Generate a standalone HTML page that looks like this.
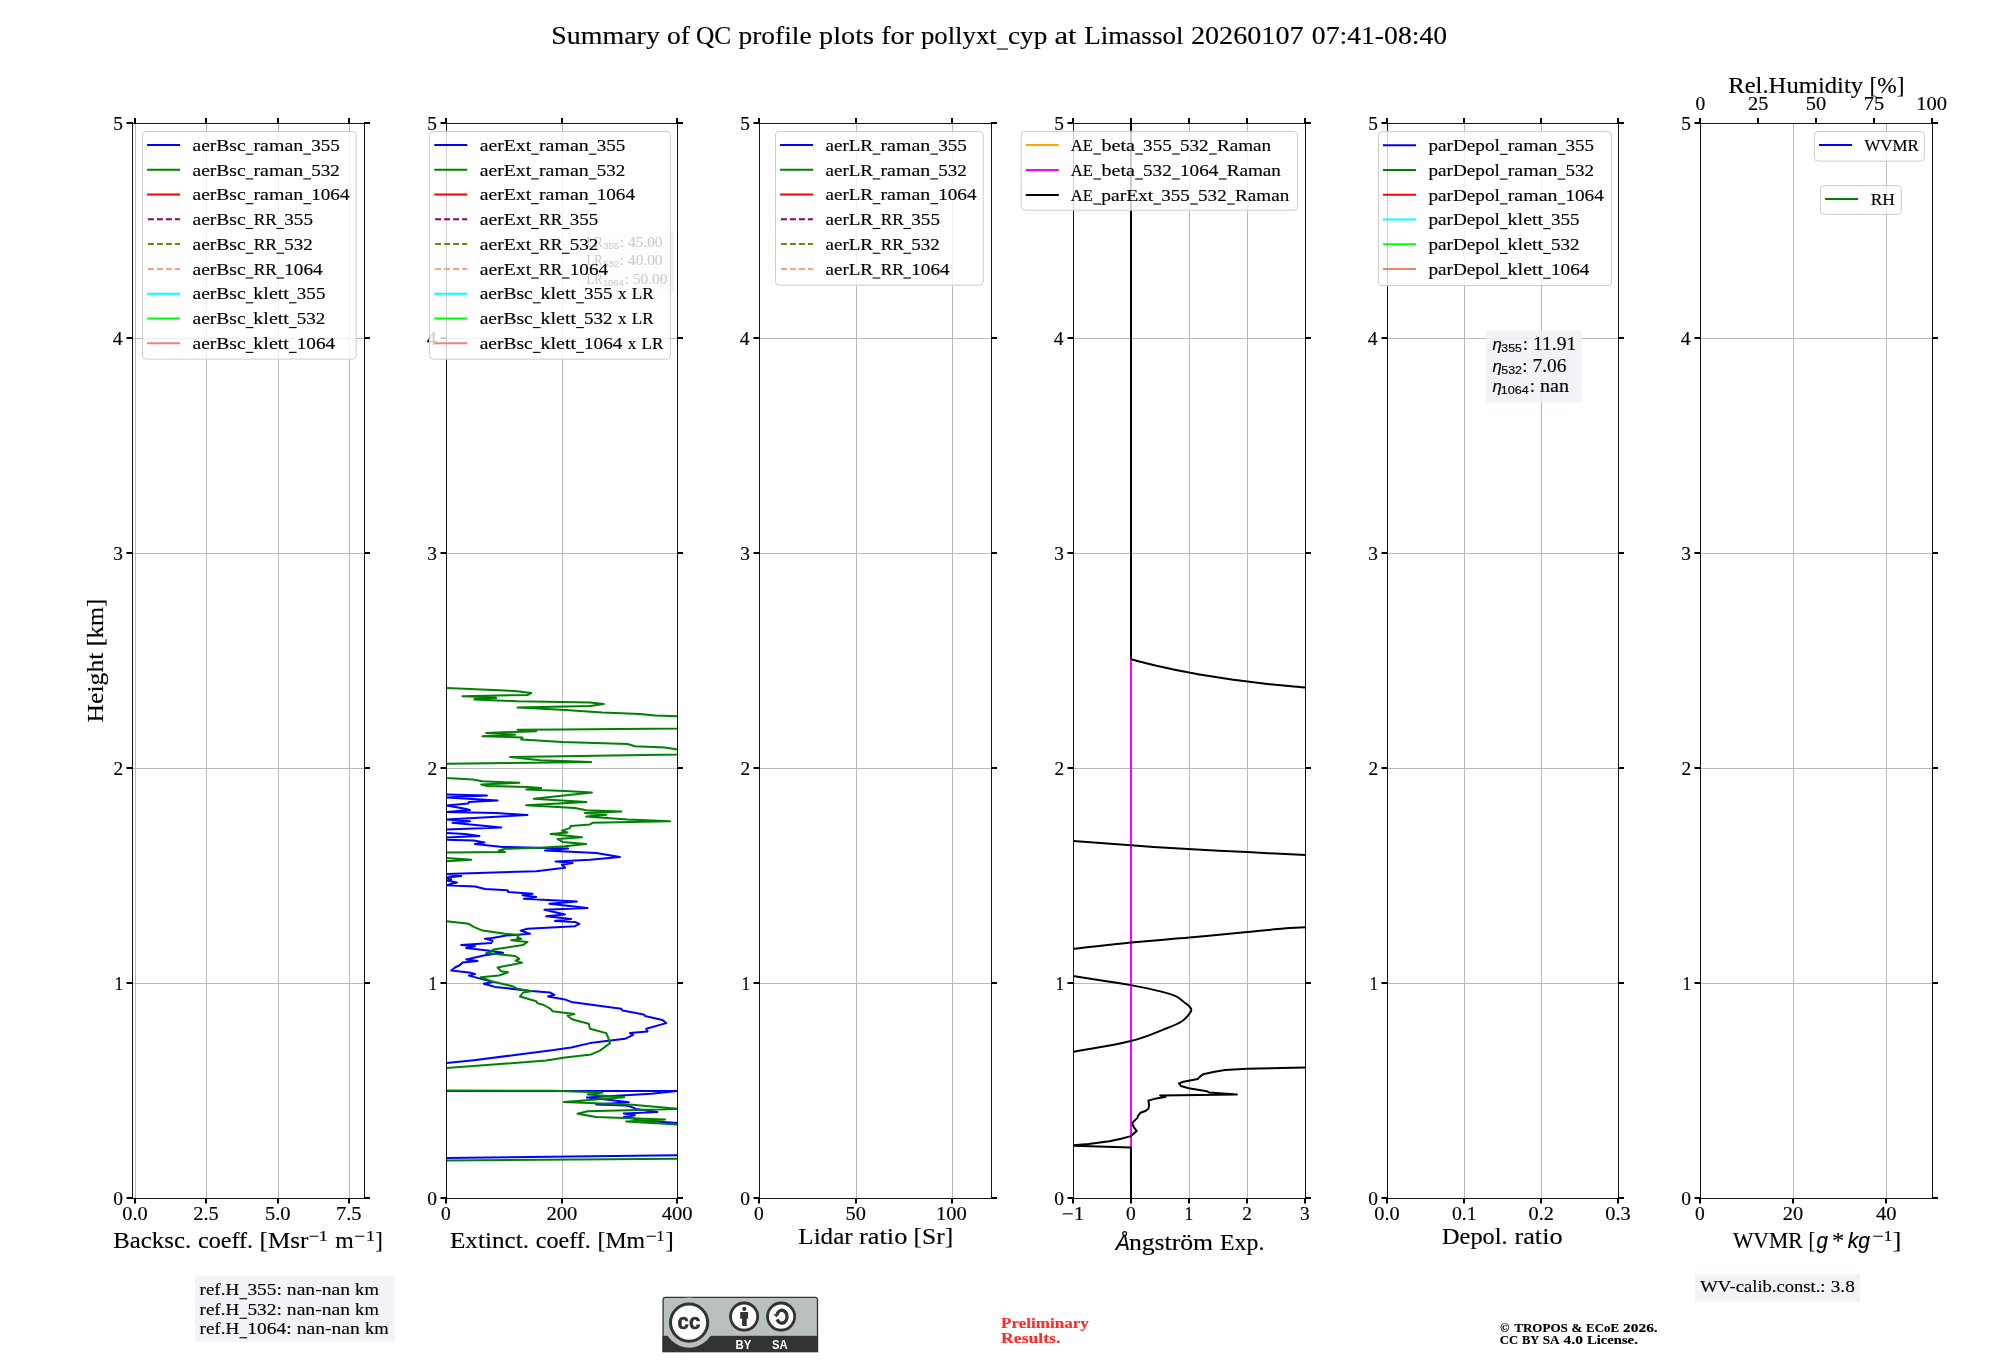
<!DOCTYPE html>
<html><head><meta charset="utf-8"><title>QC profile plots</title><style>html,body{margin:0;padding:0;background:#fff;width:2000px;height:1360px;overflow:hidden}</style></head><body>
<svg width="2000" height="1360" viewBox="0 0 2000 1360" style="display:block;will-change:transform">
<rect width="2000" height="1360" fill="#fff"/>
<defs>
<clipPath id="c0"><rect x="132.5" y="123.5" width="232.0" height="1075.0"/></clipPath>
<clipPath id="c1"><rect x="446.5" y="123.5" width="231.0" height="1075.0"/></clipPath>
<clipPath id="c2"><rect x="759.5" y="123.5" width="232.0" height="1075.0"/></clipPath>
<clipPath id="c3"><rect x="1073.5" y="123.5" width="232.0" height="1075.0"/></clipPath>
<clipPath id="c4"><rect x="1387.5" y="123.5" width="231.0" height="1075.0"/></clipPath>
<clipPath id="c5"><rect x="1700.5" y="123.5" width="232.0" height="1075.0"/></clipPath>
</defs>
<text x="551.32" y="44.20" font-size="24.83" textLength="108.58" lengthAdjust="spacingAndGlyphs" font-family="Liberation Serif" font-weight="normal" font-style="normal" fill="#000" stroke="#000" stroke-width="0.15" >Summary</text>
<text x="667.01" y="44.20" font-size="24.83" textLength="22.97" lengthAdjust="spacingAndGlyphs" font-family="Liberation Serif" font-weight="normal" font-style="normal" fill="#000" stroke="#000" stroke-width="0.15" >of</text>
<text x="695.92" y="44.20" font-size="24.83" textLength="35.18" lengthAdjust="spacingAndGlyphs" font-family="Liberation Serif" font-weight="normal" font-style="normal" fill="#000" stroke="#000" stroke-width="0.15" >QC</text>
<text x="738.42" y="44.20" font-size="24.83" textLength="73.16" lengthAdjust="spacingAndGlyphs" font-family="Liberation Serif" font-weight="normal" font-style="normal" fill="#000" stroke="#000" stroke-width="0.15" >profile</text>
<text x="819.10" y="44.20" font-size="24.83" textLength="54.97" lengthAdjust="spacingAndGlyphs" font-family="Liberation Serif" font-weight="normal" font-style="normal" fill="#000" stroke="#000" stroke-width="0.15" >plots</text>
<text x="881.15" y="44.20" font-size="24.83" textLength="32.65" lengthAdjust="spacingAndGlyphs" font-family="Liberation Serif" font-weight="normal" font-style="normal" fill="#000" stroke="#000" stroke-width="0.15" >for</text>
<text x="920.92" y="44.20" font-size="24.83" textLength="75.86" lengthAdjust="spacingAndGlyphs" font-family="Liberation Serif" font-weight="normal" font-style="normal" fill="#000" stroke="#000" stroke-width="0.15" >pollyxt</text>
<rect x="996.79" y="48.48" width="11.15" height="1.1" fill="#000"/>
<text x="1008.04" y="44.20" font-size="24.83" textLength="39.22" lengthAdjust="spacingAndGlyphs" font-family="Liberation Serif" font-weight="normal" font-style="normal" fill="#000" stroke="#000" stroke-width="0.15" >cyp</text>
<text x="1054.45" y="44.20" font-size="24.83" textLength="22.18" lengthAdjust="spacingAndGlyphs" font-family="Liberation Serif" font-weight="normal" font-style="normal" fill="#000" stroke="#000" stroke-width="0.15" >at</text>
<text x="1084.19" y="44.20" font-size="24.83" textLength="99.33" lengthAdjust="spacingAndGlyphs" font-family="Liberation Serif" font-weight="normal" font-style="normal" fill="#000" stroke="#000" stroke-width="0.15" >Limassol</text>
<text x="1190.98" y="44.20" font-size="24.83" textLength="112.60" lengthAdjust="spacingAndGlyphs" font-family="Liberation Serif" font-weight="normal" font-style="normal" fill="#000" stroke="#000" stroke-width="0.15" >20260107</text>
<text x="1311.80" y="44.20" font-size="24.83" textLength="135.30" lengthAdjust="spacingAndGlyphs" font-family="Liberation Serif" font-weight="normal" font-style="normal" fill="#000" stroke="#000" stroke-width="0.15" >07:41-08:40</text>
<path d="M135.5 123.5V1198.5M206.5 123.5V1198.5M278.5 123.5V1198.5M349.5 123.5V1198.5M132.5 983.5H364.5M132.5 768.5H364.5M132.5 553.5H364.5M132.5 338.5H364.5" stroke="#bababa" stroke-width="1" fill="none"/>
<path d="M562.5 123.5V1198.5M446.5 983.5H677.5M446.5 768.5H677.5M446.5 553.5H677.5M446.5 338.5H677.5" stroke="#bababa" stroke-width="1" fill="none"/>
<path d="M856.5 123.5V1198.5M952.5 123.5V1198.5M759.5 983.5H991.5M759.5 768.5H991.5M759.5 553.5H991.5M759.5 338.5H991.5" stroke="#bababa" stroke-width="1" fill="none"/>
<path d="M1131.5 123.5V1198.5M1189.5 123.5V1198.5M1247.5 123.5V1198.5M1073.5 983.5H1305.5M1073.5 768.5H1305.5M1073.5 553.5H1305.5M1073.5 338.5H1305.5" stroke="#bababa" stroke-width="1" fill="none"/>
<path d="M1464.5 123.5V1198.5M1541.5 123.5V1198.5M1387.5 983.5H1618.5M1387.5 768.5H1618.5M1387.5 553.5H1618.5M1387.5 338.5H1618.5" stroke="#bababa" stroke-width="1" fill="none"/>
<path d="M1793.5 123.5V1198.5M1886.5 123.5V1198.5M1700.5 983.5H1932.5M1700.5 768.5H1932.5M1700.5 553.5H1932.5M1700.5 338.5H1932.5" stroke="#bababa" stroke-width="1" fill="none"/>
<path d="M402.5 793.8 L446.5 794.4 L486.9 795.6 L446.5 797.5 L497.5 800.6 L468.8 801.9 L468.1 803.5 L446.5 805.6 L465.0 808.8 L470.0 810.0 L446.5 811.9 L496.2 813.1 L527.5 815.0 L446.5 819.4 L470.0 821.2 L452.5 822.8 L501.2 827.5 L446.5 829.4 L402.5 831.2 L446.5 833.1 L465.0 834.0 L479.4 836.0 L446.5 837.5 L427.5 838.8 L446.5 839.8 L473.8 840.6 L484.4 842.5 L475.0 844.0 L502.5 846.9 L568.1 848.5 L545.0 850.4 L596.2 853.1 L620.0 856.9 L590.0 859.8 L555.6 861.5 L572.5 863.1 L561.9 864.8 L565.0 867.8 L536.2 871.2 L446.5 874.0 L461.2 876.0 L446.5 877.5 L451.2 879.4 L446.5 880.6 L456.9 882.5 L446.5 885.2 L475.0 886.5 L485.0 889.0 L507.5 890.2 L508.1 891.9 L532.5 893.8 L522.5 895.2 L536.2 896.9 L523.8 898.8 L576.9 901.5 L549.4 903.8 L587.5 908.1 L544.4 909.8 L565.0 914.4 L546.2 916.2 L571.2 919.0 L555.0 921.0 L575.0 921.9 L579.4 923.8 L575.0 926.2 L527.5 928.8 L520.6 930.6 L530.0 933.8 L506.2 935.6 L492.5 938.1 L485.0 938.8 L492.5 940.6 L491.2 943.1 L461.2 945.0 L475.0 946.2 L466.2 948.1 L487.5 950.6 L503.1 952.8 L485.0 955.2 L466.2 959.4 L477.5 961.0 L462.5 962.5 L460.0 965.0 L455.0 967.5 L451.2 970.6 L468.8 972.5 L475.0 974.0 L468.8 975.6 L492.5 981.9 L483.8 983.8 L495.0 986.9 L531.2 991.0 L550.0 992.5 L554.4 994.8 L548.1 996.5 L565.0 999.4 L571.2 1001.9 L621.2 1008.8 L622.5 1010.6 L643.8 1014.4 L645.0 1016.0 L662.5 1020.0 L666.2 1023.1 L646.2 1028.8 L647.5 1031.5 L630.0 1033.1 L633.1 1034.8 L625.0 1038.8 L590.0 1043.1 L571.2 1047.5 L550.0 1050.6 L515.0 1055.0 L473.8 1060.2 L446.5 1063.1 L365.0 1066.2 L365.0 1091.1 L677.2 1091.1 L727.5 1090.8 L677.2 1091.1 L651.2 1093.8 L586.9 1097.5 L606.2 1099.4 L628.8 1102.2 L596.2 1104.4 L625.0 1105.4 L631.2 1106.9 L636.2 1109.0 L657.5 1111.9 L623.8 1113.5 L635.0 1115.2 L623.8 1116.9 L635.0 1118.8 L636.2 1120.0 L677.2 1123.1 L727.5 1124.4" stroke="#0000ff" stroke-width="2.0" fill="none" stroke-linejoin="round" clip-path="url(#c1)" />
<path d="M365.0 1159.0 L677.2 1155.2 L740.0 1154.4" stroke="#0000ff" stroke-width="2.0" fill="none" stroke-linejoin="round" clip-path="url(#c1)" />
<path d="M446.5 688.1 L487.5 689.8 L515.0 691.0 L531.2 693.1 L527.5 695.0 L462.5 696.2 L495.0 697.5 L475.0 698.1 L496.2 698.1 L474.4 699.4 L517.5 701.2 L562.5 701.9 L590.0 702.5 L603.8 704.1 L590.0 706.0 L517.5 707.5 L542.5 708.8 L565.0 710.0 L602.5 712.5 L640.0 714.0 L655.0 715.6 L677.2 716.2 L727.5 722.5 L677.2 728.5 L562.5 729.4 L517.5 729.8 L536.2 731.2 L486.2 732.9 L515.0 734.8 L482.5 736.2 L522.5 737.5 L521.2 739.4 L562.5 741.9 L627.5 744.0 L635.0 746.2 L665.0 747.5 L677.2 749.4 L727.5 751.9 L677.2 754.4 L562.5 756.2 L510.0 757.1 L540.0 760.2 L591.2 761.9 L446.5 763.8 L402.5 771.2 L446.5 778.1 L472.5 779.4 L482.5 781.2 L519.4 782.8 L481.2 784.6 L487.5 786.0 L527.5 787.1 L541.2 787.9 L526.2 789.4 L565.0 791.0 L591.9 792.5 L533.8 798.8 L586.2 802.1 L526.2 805.2 L575.0 808.1 L586.2 810.2 L621.2 811.6 L585.0 813.1 L606.2 814.8 L586.2 816.6 L627.5 819.4 L670.0 821.2 L592.5 822.8 L590.0 824.4 L570.6 826.0 L570.0 828.1 L561.9 830.6 L567.5 832.5 L550.6 834.0 L581.9 837.2 L557.5 839.0 L562.5 841.9 L586.2 844.0 L565.0 846.2 L540.0 847.8 L505.0 848.8 L498.8 850.6 L505.0 851.9 L446.5 852.5 L402.5 855.0 L446.5 858.1 L471.2 859.8 L446.5 861.2 L402.5 865.0 L402.5 918.8 L446.5 921.2 L468.8 923.8 L473.8 926.9 L482.5 930.6 L505.0 933.8 L518.8 935.0 L517.5 937.5 L521.2 938.8 L511.2 940.2 L527.5 941.9 L523.1 945.0 L493.8 949.4 L490.0 951.9 L486.2 953.1 L515.0 956.0 L519.4 958.8 L515.6 960.6 L521.9 962.8 L497.5 967.5 L501.2 971.2 L508.1 972.2 L498.8 975.6 L480.6 977.2 L491.2 981.2 L512.5 986.2 L517.5 988.8 L531.2 991.2 L523.1 992.5 L520.0 996.5 L536.2 1001.2 L537.5 1003.1 L543.8 1005.0 L550.6 1008.8 L552.5 1011.2 L574.4 1014.0 L567.5 1015.6 L571.2 1018.8 L574.4 1020.0 L588.8 1023.8 L590.0 1028.8 L606.2 1033.1 L608.1 1037.5 L610.0 1043.1 L600.0 1050.6 L591.2 1054.4 L565.0 1057.5 L546.2 1060.6 L446.5 1068.1 L365.0 1070.0 L365.0 1090.4 L552.5 1090.8 L602.5 1092.5 L587.5 1094.4 L624.4 1097.2 L563.8 1101.9 L632.5 1104.8 L677.2 1108.8 L727.5 1108.9 L677.2 1109.0 L587.5 1111.2 L577.5 1113.8 L596.2 1116.9 L665.0 1119.4 L626.2 1121.5 L677.2 1124.4 L727.5 1125.0" stroke="#008000" stroke-width="2.0" fill="none" stroke-linejoin="round" clip-path="url(#c1)" />
<path d="M365.0 1161.2 L677.2 1158.8 L740.0 1158.1" stroke="#008000" stroke-width="2.0" fill="none" stroke-linejoin="round" clip-path="url(#c1)" />
<path d="M1131.0 100.0 L1131.0 1300.0" stroke="#ff00ff" stroke-width="2.0" fill="none" stroke-linejoin="round" clip-path="url(#c3)" />
<path d="M1131.0 100.0 L1131.0 659.3" stroke="#000000" stroke-width="2.0" fill="none" stroke-linejoin="round" clip-path="url(#c3)" />
<path d="M1131.00 659.30 C1132.03 659.57 1134.83 660.31 1137.20 660.93 C1139.57 661.54 1142.53 662.33 1145.20 663.00 C1147.87 663.67 1150.53 664.32 1153.20 664.96 C1155.87 665.59 1158.53 666.21 1161.20 666.81 C1163.87 667.42 1166.53 668.00 1169.20 668.57 C1171.87 669.14 1174.53 669.70 1177.20 670.24 C1179.87 670.78 1182.53 671.30 1185.20 671.81 C1187.87 672.32 1190.53 672.82 1193.20 673.31 C1195.87 673.79 1198.53 674.26 1201.20 674.72 C1203.87 675.18 1206.53 675.62 1209.20 676.06 C1211.87 676.49 1214.53 676.92 1217.20 677.33 C1219.87 677.74 1222.53 678.14 1225.20 678.53 C1227.87 678.92 1230.53 679.30 1233.20 679.66 C1235.87 680.03 1238.53 680.39 1241.20 680.74 C1243.87 681.09 1246.53 681.43 1249.20 681.76 C1251.87 682.09 1254.53 682.41 1257.20 682.73 C1259.87 683.04 1262.53 683.35 1265.20 683.64 C1267.87 683.94 1270.53 684.23 1273.20 684.51 C1275.87 684.79 1278.53 685.06 1281.20 685.33 C1283.87 685.60 1286.53 685.85 1289.20 686.11 C1291.87 686.36 1294.53 686.60 1297.20 686.84 C1299.87 687.08 1302.53 687.31 1305.20 687.54 C1307.87 687.77 1310.53 687.99 1313.20 688.20 C1315.87 688.41 1318.53 688.62 1321.20 688.82 C1323.87 689.03 1327.87 689.32 1329.20 689.42" stroke="#000000" stroke-width="2.0" fill="none" stroke-linejoin="round" clip-path="url(#c3)" />
<path d="M1033.99 838.21 C1040.56 838.68 1057.25 839.87 1073.39 841.07 C1089.54 842.26 1112.51 844.06 1130.87 845.36 C1149.23 846.66 1164.14 847.74 1183.54 848.87 C1202.93 850.00 1226.93 851.08 1247.26 852.12 C1267.59 853.16 1286.87 854.18 1305.51 855.11 C1324.15 856.04 1350.16 857.28 1359.09 857.71" stroke="#000000" stroke-width="2.0" fill="none" stroke-linejoin="round" clip-path="url(#c3)" />
<path d="M1033.99 952.38 C1040.56 951.77 1057.25 950.39 1073.39 948.74 C1089.54 947.09 1111.54 944.38 1130.87 942.50 C1150.20 940.61 1169.99 939.16 1189.39 937.43 C1208.79 935.69 1231.54 933.57 1247.26 932.09 C1262.97 930.62 1273.96 929.38 1283.67 928.58 C1293.38 927.78 1292.94 928.04 1305.51 927.28 C1318.08 926.52 1350.16 924.57 1359.09 924.03" stroke="#000000" stroke-width="2.0" fill="none" stroke-linejoin="round" clip-path="url(#c3)" />
<path d="M1033.99 969.51 C1040.56 970.59 1061.04 974.01 1073.39 976.01 C1085.75 978.00 1098.53 979.95 1108.11 981.47 C1117.69 982.99 1121.99 983.42 1130.87 985.11 C1139.76 986.80 1153.95 989.77 1161.43 991.61 C1168.91 993.45 1172.27 994.65 1175.73 996.16 C1179.20 997.68 1179.85 998.87 1182.24 1000.72 C1184.62 1002.56 1188.63 1005.37 1190.04 1007.22 C1191.45 1009.06 1192.10 1009.38 1190.69 1011.77 C1189.28 1014.15 1186.03 1018.60 1181.59 1021.52 C1177.14 1024.45 1172.48 1026.07 1164.03 1029.32 C1155.58 1032.57 1145.98 1037.30 1130.87 1041.03 C1115.77 1044.76 1089.54 1049.09 1073.39 1051.69 C1057.25 1054.29 1040.56 1055.81 1033.99 1056.63" stroke="#000000" stroke-width="2.0" fill="none" stroke-linejoin="round" clip-path="url(#c3)" />
<path d="M1359.1 1066.8 L1305.5 1067.5 L1247.3 1068.8 L1225.1 1070.0 L1214.7 1071.7 L1203.0 1074.3 L1199.8 1076.9 L1197.8 1078.9 L1183.5 1081.8 L1179.0 1083.4 L1180.9 1086.0 L1188.7 1088.3 L1206.9 1091.2 L1208.9 1092.5 L1236.9 1094.5 L1160.1 1095.4 L1165.3 1097.1 L1156.2 1098.4 L1148.4 1100.6 L1149.1 1104.9 L1148.4 1108.8 L1145.8 1110.7 L1140.6 1112.7 L1138.0 1115.9 L1137.4 1117.9 L1132.8 1122.4 L1132.2 1123.7 L1134.1 1127.6 L1136.7 1130.9 L1130.9 1136.1 L1121.1 1138.7 L1109.4 1141.3 L1088.6 1143.9 L1073.4 1145.2 L1047.0 1145.6 L1073.4 1145.8 L1130.9 1147.4 L1131.0 1203.0" stroke="#000000" stroke-width="2.0" fill="none" stroke-linejoin="round" clip-path="url(#c3)" />
<rect x="132.5" y="123.5" width="232.0" height="1075.0" fill="none" stroke="#151515" stroke-width="1"/>
<path d="M135 1198.0v5.5M135 124.0v-6M206 1198.0v5.5M206 124.0v-6M278 1198.0v5.5M278 124.0v-6M349 1198.0v5.5M349 124.0v-6M133.0 1198h-6.5M364.0 1198h6M133.0 983h-6.5M364.0 983h6M133.0 768h-6.5M364.0 768h6M133.0 553h-6.5M364.0 553h6M133.0 338h-6.5M364.0 338h6M133.0 123h-6.5M364.0 123h6" stroke="#000" stroke-width="2" fill="none"/>
<text x="122.26" y="1219.90" font-size="18.25" textLength="25.47" lengthAdjust="spacingAndGlyphs" font-family="Liberation Serif" font-weight="normal" font-style="normal" fill="#000" stroke="#000" stroke-width="0.15" >0.0</text>
<text x="193.21" y="1219.90" font-size="18.25" textLength="25.47" lengthAdjust="spacingAndGlyphs" font-family="Liberation Serif" font-weight="normal" font-style="normal" fill="#000" stroke="#000" stroke-width="0.15" >2.5</text>
<text x="265.02" y="1219.90" font-size="18.25" textLength="25.56" lengthAdjust="spacingAndGlyphs" font-family="Liberation Serif" font-weight="normal" font-style="normal" fill="#000" stroke="#000" stroke-width="0.15" >5.0</text>
<text x="335.94" y="1219.90" font-size="18.25" textLength="25.60" lengthAdjust="spacingAndGlyphs" font-family="Liberation Serif" font-weight="normal" font-style="normal" fill="#000" stroke="#000" stroke-width="0.15" >7.5</text>
<text x="113.19" y="1204.60" font-size="18.25" textLength="9.74" lengthAdjust="spacingAndGlyphs" font-family="Liberation Serif" font-weight="normal" font-style="normal" fill="#000" stroke="#000" stroke-width="0.15" >0</text>
<text x="114.57" y="989.62" font-size="18.25" textLength="8.67" lengthAdjust="spacingAndGlyphs" font-family="Liberation Serif" font-weight="normal" font-style="normal" fill="#000" stroke="#000" stroke-width="0.15" >1</text>
<text x="113.62" y="774.64" font-size="18.25" textLength="9.63" lengthAdjust="spacingAndGlyphs" font-family="Liberation Serif" font-weight="normal" font-style="normal" fill="#000" stroke="#000" stroke-width="0.15" >2</text>
<text x="113.28" y="559.66" font-size="18.25" textLength="9.69" lengthAdjust="spacingAndGlyphs" font-family="Liberation Serif" font-weight="normal" font-style="normal" fill="#000" stroke="#000" stroke-width="0.15" >3</text>
<text x="112.71" y="344.68" font-size="18.25" textLength="9.79" lengthAdjust="spacingAndGlyphs" font-family="Liberation Serif" font-weight="normal" font-style="normal" fill="#000" stroke="#000" stroke-width="0.15" >4</text>
<text x="113.30" y="129.70" font-size="18.25" textLength="9.68" lengthAdjust="spacingAndGlyphs" font-family="Liberation Serif" font-weight="normal" font-style="normal" fill="#000" stroke="#000" stroke-width="0.15" >5</text>
<rect x="446.5" y="123.5" width="231.0" height="1075.0" fill="none" stroke="#151515" stroke-width="1"/>
<path d="M446 1198.0v5.5M446 124.0v-6M562 1198.0v5.5M562 124.0v-6M677 1198.0v5.5M677 124.0v-6M447.0 1198h-6.5M677.0 1198h6M447.0 983h-6.5M677.0 983h6M447.0 768h-6.5M677.0 768h6M447.0 553h-6.5M677.0 553h6M447.0 338h-6.5M677.0 338h6M447.0 123h-6.5M677.0 123h6" stroke="#000" stroke-width="2" fill="none"/>
<text x="441.13" y="1219.90" font-size="18.25" textLength="9.74" lengthAdjust="spacingAndGlyphs" font-family="Liberation Serif" font-weight="normal" font-style="normal" fill="#000" stroke="#000" stroke-width="0.15" >0</text>
<text x="546.52" y="1219.90" font-size="18.25" textLength="30.80" lengthAdjust="spacingAndGlyphs" font-family="Liberation Serif" font-weight="normal" font-style="normal" fill="#000" stroke="#000" stroke-width="0.15" >200</text>
<text x="661.73" y="1219.90" font-size="18.25" textLength="30.91" lengthAdjust="spacingAndGlyphs" font-family="Liberation Serif" font-weight="normal" font-style="normal" fill="#000" stroke="#000" stroke-width="0.15" >400</text>
<text x="427.19" y="1204.60" font-size="18.25" textLength="9.74" lengthAdjust="spacingAndGlyphs" font-family="Liberation Serif" font-weight="normal" font-style="normal" fill="#000" stroke="#000" stroke-width="0.15" >0</text>
<text x="428.57" y="989.62" font-size="18.25" textLength="8.67" lengthAdjust="spacingAndGlyphs" font-family="Liberation Serif" font-weight="normal" font-style="normal" fill="#000" stroke="#000" stroke-width="0.15" >1</text>
<text x="427.62" y="774.64" font-size="18.25" textLength="9.63" lengthAdjust="spacingAndGlyphs" font-family="Liberation Serif" font-weight="normal" font-style="normal" fill="#000" stroke="#000" stroke-width="0.15" >2</text>
<text x="427.28" y="559.66" font-size="18.25" textLength="9.69" lengthAdjust="spacingAndGlyphs" font-family="Liberation Serif" font-weight="normal" font-style="normal" fill="#000" stroke="#000" stroke-width="0.15" >3</text>
<text x="426.71" y="344.68" font-size="18.25" textLength="9.79" lengthAdjust="spacingAndGlyphs" font-family="Liberation Serif" font-weight="normal" font-style="normal" fill="#000" stroke="#000" stroke-width="0.15" >4</text>
<text x="427.30" y="129.70" font-size="18.25" textLength="9.68" lengthAdjust="spacingAndGlyphs" font-family="Liberation Serif" font-weight="normal" font-style="normal" fill="#000" stroke="#000" stroke-width="0.15" >5</text>
<rect x="759.5" y="123.5" width="232.0" height="1075.0" fill="none" stroke="#151515" stroke-width="1"/>
<path d="M759 1198.0v5.5M759 124.0v-6M856 1198.0v5.5M856 124.0v-6M952 1198.0v5.5M952 124.0v-6M760.0 1198h-6.5M991.0 1198h6M760.0 983h-6.5M991.0 983h6M760.0 768h-6.5M991.0 768h6M760.0 553h-6.5M991.0 553h6M760.0 338h-6.5M991.0 338h6M760.0 123h-6.5M991.0 123h6" stroke="#000" stroke-width="2" fill="none"/>
<text x="754.13" y="1219.90" font-size="18.25" textLength="9.74" lengthAdjust="spacingAndGlyphs" font-family="Liberation Serif" font-weight="normal" font-style="normal" fill="#000" stroke="#000" stroke-width="0.15" >0</text>
<text x="845.63" y="1219.90" font-size="18.25" textLength="20.34" lengthAdjust="spacingAndGlyphs" font-family="Liberation Serif" font-weight="normal" font-style="normal" fill="#000" stroke="#000" stroke-width="0.15" >50</text>
<text x="936.10" y="1219.90" font-size="18.25" textLength="30.77" lengthAdjust="spacingAndGlyphs" font-family="Liberation Serif" font-weight="normal" font-style="normal" fill="#000" stroke="#000" stroke-width="0.15" >100</text>
<text x="740.19" y="1204.60" font-size="18.25" textLength="9.74" lengthAdjust="spacingAndGlyphs" font-family="Liberation Serif" font-weight="normal" font-style="normal" fill="#000" stroke="#000" stroke-width="0.15" >0</text>
<text x="741.57" y="989.62" font-size="18.25" textLength="8.67" lengthAdjust="spacingAndGlyphs" font-family="Liberation Serif" font-weight="normal" font-style="normal" fill="#000" stroke="#000" stroke-width="0.15" >1</text>
<text x="740.62" y="774.64" font-size="18.25" textLength="9.63" lengthAdjust="spacingAndGlyphs" font-family="Liberation Serif" font-weight="normal" font-style="normal" fill="#000" stroke="#000" stroke-width="0.15" >2</text>
<text x="740.28" y="559.66" font-size="18.25" textLength="9.69" lengthAdjust="spacingAndGlyphs" font-family="Liberation Serif" font-weight="normal" font-style="normal" fill="#000" stroke="#000" stroke-width="0.15" >3</text>
<text x="739.71" y="344.68" font-size="18.25" textLength="9.79" lengthAdjust="spacingAndGlyphs" font-family="Liberation Serif" font-weight="normal" font-style="normal" fill="#000" stroke="#000" stroke-width="0.15" >4</text>
<text x="740.30" y="129.70" font-size="18.25" textLength="9.68" lengthAdjust="spacingAndGlyphs" font-family="Liberation Serif" font-weight="normal" font-style="normal" fill="#000" stroke="#000" stroke-width="0.15" >5</text>
<rect x="1073.5" y="123.5" width="232.0" height="1075.0" fill="none" stroke="#151515" stroke-width="1"/>
<path d="M1073 1198.0v5.5M1073 124.0v-6M1131 1198.0v5.5M1131 124.0v-6M1189 1198.0v5.5M1189 124.0v-6M1247 1198.0v5.5M1247 124.0v-6M1305 1198.0v5.5M1305 124.0v-6M1074.0 1198h-6.5M1305.0 1198h6M1074.0 983h-6.5M1305.0 983h6M1074.0 768h-6.5M1305.0 768h6M1074.0 553h-6.5M1305.0 553h6M1074.0 338h-6.5M1305.0 338h6M1074.0 123h-6.5M1305.0 123h6" stroke="#000" stroke-width="2" fill="none"/>
<text x="1061.88" y="1219.90" font-size="18.25" textLength="22.43" lengthAdjust="spacingAndGlyphs" font-family="Liberation Serif" font-weight="normal" font-style="normal" fill="#000" stroke="#000" stroke-width="0.15" >−1</text>
<text x="1126.13" y="1219.90" font-size="18.25" textLength="9.74" lengthAdjust="spacingAndGlyphs" font-family="Liberation Serif" font-weight="normal" font-style="normal" fill="#000" stroke="#000" stroke-width="0.15" >0</text>
<text x="1184.43" y="1219.90" font-size="18.25" textLength="8.67" lengthAdjust="spacingAndGlyphs" font-family="Liberation Serif" font-weight="normal" font-style="normal" fill="#000" stroke="#000" stroke-width="0.15" >1</text>
<text x="1242.28" y="1219.90" font-size="18.25" textLength="9.63" lengthAdjust="spacingAndGlyphs" font-family="Liberation Serif" font-weight="normal" font-style="normal" fill="#000" stroke="#000" stroke-width="0.15" >2</text>
<text x="1300.08" y="1219.90" font-size="18.25" textLength="9.69" lengthAdjust="spacingAndGlyphs" font-family="Liberation Serif" font-weight="normal" font-style="normal" fill="#000" stroke="#000" stroke-width="0.15" >3</text>
<text x="1054.19" y="1204.60" font-size="18.25" textLength="9.74" lengthAdjust="spacingAndGlyphs" font-family="Liberation Serif" font-weight="normal" font-style="normal" fill="#000" stroke="#000" stroke-width="0.15" >0</text>
<text x="1055.57" y="989.62" font-size="18.25" textLength="8.67" lengthAdjust="spacingAndGlyphs" font-family="Liberation Serif" font-weight="normal" font-style="normal" fill="#000" stroke="#000" stroke-width="0.15" >1</text>
<text x="1054.62" y="774.64" font-size="18.25" textLength="9.63" lengthAdjust="spacingAndGlyphs" font-family="Liberation Serif" font-weight="normal" font-style="normal" fill="#000" stroke="#000" stroke-width="0.15" >2</text>
<text x="1054.28" y="559.66" font-size="18.25" textLength="9.69" lengthAdjust="spacingAndGlyphs" font-family="Liberation Serif" font-weight="normal" font-style="normal" fill="#000" stroke="#000" stroke-width="0.15" >3</text>
<text x="1053.71" y="344.68" font-size="18.25" textLength="9.79" lengthAdjust="spacingAndGlyphs" font-family="Liberation Serif" font-weight="normal" font-style="normal" fill="#000" stroke="#000" stroke-width="0.15" >4</text>
<text x="1054.30" y="129.70" font-size="18.25" textLength="9.68" lengthAdjust="spacingAndGlyphs" font-family="Liberation Serif" font-weight="normal" font-style="normal" fill="#000" stroke="#000" stroke-width="0.15" >5</text>
<rect x="1387.5" y="123.5" width="231.0" height="1075.0" fill="none" stroke="#151515" stroke-width="1"/>
<path d="M1387 1198.0v5.5M1387 124.0v-6M1464 1198.0v5.5M1464 124.0v-6M1541 1198.0v5.5M1541 124.0v-6M1618 1198.0v5.5M1618 124.0v-6M1388.0 1198h-6.5M1618.0 1198h6M1388.0 983h-6.5M1618.0 983h6M1388.0 768h-6.5M1618.0 768h6M1388.0 553h-6.5M1618.0 553h6M1388.0 338h-6.5M1618.0 338h6M1388.0 123h-6.5M1618.0 123h6" stroke="#000" stroke-width="2" fill="none"/>
<text x="1374.26" y="1219.90" font-size="18.25" textLength="25.47" lengthAdjust="spacingAndGlyphs" font-family="Liberation Serif" font-weight="normal" font-style="normal" fill="#000" stroke="#000" stroke-width="0.15" >0.0</text>
<text x="1451.90" y="1219.90" font-size="18.25" textLength="24.64" lengthAdjust="spacingAndGlyphs" font-family="Liberation Serif" font-weight="normal" font-style="normal" fill="#000" stroke="#000" stroke-width="0.15" >0.1</text>
<text x="1528.54" y="1219.90" font-size="18.25" textLength="25.28" lengthAdjust="spacingAndGlyphs" font-family="Liberation Serif" font-weight="normal" font-style="normal" fill="#000" stroke="#000" stroke-width="0.15" >0.2</text>
<text x="1605.33" y="1219.90" font-size="18.25" textLength="25.40" lengthAdjust="spacingAndGlyphs" font-family="Liberation Serif" font-weight="normal" font-style="normal" fill="#000" stroke="#000" stroke-width="0.15" >0.3</text>
<text x="1368.19" y="1204.60" font-size="18.25" textLength="9.74" lengthAdjust="spacingAndGlyphs" font-family="Liberation Serif" font-weight="normal" font-style="normal" fill="#000" stroke="#000" stroke-width="0.15" >0</text>
<text x="1369.57" y="989.62" font-size="18.25" textLength="8.67" lengthAdjust="spacingAndGlyphs" font-family="Liberation Serif" font-weight="normal" font-style="normal" fill="#000" stroke="#000" stroke-width="0.15" >1</text>
<text x="1368.62" y="774.64" font-size="18.25" textLength="9.63" lengthAdjust="spacingAndGlyphs" font-family="Liberation Serif" font-weight="normal" font-style="normal" fill="#000" stroke="#000" stroke-width="0.15" >2</text>
<text x="1368.28" y="559.66" font-size="18.25" textLength="9.69" lengthAdjust="spacingAndGlyphs" font-family="Liberation Serif" font-weight="normal" font-style="normal" fill="#000" stroke="#000" stroke-width="0.15" >3</text>
<text x="1367.71" y="344.68" font-size="18.25" textLength="9.79" lengthAdjust="spacingAndGlyphs" font-family="Liberation Serif" font-weight="normal" font-style="normal" fill="#000" stroke="#000" stroke-width="0.15" >4</text>
<text x="1368.30" y="129.70" font-size="18.25" textLength="9.68" lengthAdjust="spacingAndGlyphs" font-family="Liberation Serif" font-weight="normal" font-style="normal" fill="#000" stroke="#000" stroke-width="0.15" >5</text>
<rect x="1700.5" y="123.5" width="232.0" height="1075.0" fill="none" stroke="#151515" stroke-width="1"/>
<path d="M1700 1198.0v5.5M1793 1198.0v5.5M1886 1198.0v5.5M1701.0 1198h-6.5M1932.0 1198h6M1701.0 983h-6.5M1932.0 983h6M1701.0 768h-6.5M1932.0 768h6M1701.0 553h-6.5M1932.0 553h6M1701.0 338h-6.5M1932.0 338h6M1701.0 123h-6.5M1932.0 123h6M1700 124.0v-6M1758 124.0v-6M1816 124.0v-6M1874 124.0v-6M1932 124.0v-6" stroke="#000" stroke-width="2" fill="none"/>
<text x="1695.13" y="1219.90" font-size="18.25" textLength="9.74" lengthAdjust="spacingAndGlyphs" font-family="Liberation Serif" font-weight="normal" font-style="normal" fill="#000" stroke="#000" stroke-width="0.15" >0</text>
<text x="1782.74" y="1219.90" font-size="18.25" textLength="20.38" lengthAdjust="spacingAndGlyphs" font-family="Liberation Serif" font-weight="normal" font-style="normal" fill="#000" stroke="#000" stroke-width="0.15" >20</text>
<text x="1875.93" y="1219.90" font-size="18.25" textLength="20.49" lengthAdjust="spacingAndGlyphs" font-family="Liberation Serif" font-weight="normal" font-style="normal" fill="#000" stroke="#000" stroke-width="0.15" >40</text>
<text x="1681.19" y="1204.60" font-size="18.25" textLength="9.74" lengthAdjust="spacingAndGlyphs" font-family="Liberation Serif" font-weight="normal" font-style="normal" fill="#000" stroke="#000" stroke-width="0.15" >0</text>
<text x="1682.57" y="989.62" font-size="18.25" textLength="8.67" lengthAdjust="spacingAndGlyphs" font-family="Liberation Serif" font-weight="normal" font-style="normal" fill="#000" stroke="#000" stroke-width="0.15" >1</text>
<text x="1681.62" y="774.64" font-size="18.25" textLength="9.63" lengthAdjust="spacingAndGlyphs" font-family="Liberation Serif" font-weight="normal" font-style="normal" fill="#000" stroke="#000" stroke-width="0.15" >2</text>
<text x="1681.28" y="559.66" font-size="18.25" textLength="9.69" lengthAdjust="spacingAndGlyphs" font-family="Liberation Serif" font-weight="normal" font-style="normal" fill="#000" stroke="#000" stroke-width="0.15" >3</text>
<text x="1680.71" y="344.68" font-size="18.25" textLength="9.79" lengthAdjust="spacingAndGlyphs" font-family="Liberation Serif" font-weight="normal" font-style="normal" fill="#000" stroke="#000" stroke-width="0.15" >4</text>
<text x="1681.30" y="129.70" font-size="18.25" textLength="9.68" lengthAdjust="spacingAndGlyphs" font-family="Liberation Serif" font-weight="normal" font-style="normal" fill="#000" stroke="#000" stroke-width="0.15" >5</text>
<text x="1695.43" y="110.00" font-size="18.25" textLength="9.74" lengthAdjust="spacingAndGlyphs" font-family="Liberation Serif" font-weight="normal" font-style="normal" fill="#000" stroke="#000" stroke-width="0.15" >0</text>
<text x="1748.10" y="110.00" font-size="18.25" textLength="20.25" lengthAdjust="spacingAndGlyphs" font-family="Liberation Serif" font-weight="normal" font-style="normal" fill="#000" stroke="#000" stroke-width="0.15" >25</text>
<text x="1805.88" y="110.00" font-size="18.25" textLength="20.34" lengthAdjust="spacingAndGlyphs" font-family="Liberation Serif" font-weight="normal" font-style="normal" fill="#000" stroke="#000" stroke-width="0.15" >50</text>
<text x="1863.78" y="110.00" font-size="18.25" textLength="20.39" lengthAdjust="spacingAndGlyphs" font-family="Liberation Serif" font-weight="normal" font-style="normal" fill="#000" stroke="#000" stroke-width="0.15" >75</text>
<text x="1916.30" y="110.00" font-size="18.25" textLength="30.77" lengthAdjust="spacingAndGlyphs" font-family="Liberation Serif" font-weight="normal" font-style="normal" fill="#000" stroke="#000" stroke-width="0.15" >100</text>
<text x="1728.23" y="93.30" font-size="22.48" textLength="134.88" lengthAdjust="spacingAndGlyphs" font-family="Liberation Serif" font-weight="normal" font-style="normal" fill="#000" stroke="#000" stroke-width="0.15" >Rel.Humidity</text>
<text x="1869.45" y="93.30" font-size="22.48" textLength="34.99" lengthAdjust="spacingAndGlyphs" font-family="Liberation Serif" font-weight="normal" font-style="normal" fill="#000" stroke="#000" stroke-width="0.15" >[%]</text>
<text x="113.26" y="1247.90" font-size="22.48" textLength="77.91" lengthAdjust="spacingAndGlyphs" font-family="Liberation Serif" font-weight="normal" font-style="normal" fill="#000" stroke="#000" stroke-width="0.15" >Backsc.</text>
<text x="197.96" y="1247.90" font-size="22.48" textLength="55.11" lengthAdjust="spacingAndGlyphs" font-family="Liberation Serif" font-weight="normal" font-style="normal" fill="#000" stroke="#000" stroke-width="0.15" >coeff.</text>
<text x="259.58" y="1247.90" font-size="22.48" textLength="48.92" lengthAdjust="spacingAndGlyphs" font-family="Liberation Serif" font-weight="normal" font-style="normal" fill="#000" stroke="#000" stroke-width="0.15" >[Msr</text>
<text x="308.48" y="1241.00" font-size="14.80" textLength="10.43" lengthAdjust="spacingAndGlyphs" font-family="Liberation Serif" font-weight="normal" font-style="normal" fill="#000" stroke="#000" stroke-width="0.15" >−</text>
<text x="318.81" y="1241.00" font-size="14.80" textLength="9.08" lengthAdjust="spacingAndGlyphs" font-family="Liberation Serif" font-weight="normal" font-style="normal" fill="#000" stroke="#000" stroke-width="0.15" >1</text>
<text x="335.33" y="1247.90" font-size="22.48" textLength="18.44" lengthAdjust="spacingAndGlyphs" font-family="Liberation Serif" font-weight="normal" font-style="normal" fill="#000" stroke="#000" stroke-width="0.15" >m</text>
<text x="354.12" y="1241.00" font-size="14.80" textLength="11.04" lengthAdjust="spacingAndGlyphs" font-family="Liberation Serif" font-weight="normal" font-style="normal" fill="#000" stroke="#000" stroke-width="0.15" >−</text>
<text x="365.94" y="1241.00" font-size="14.80" textLength="8.94" lengthAdjust="spacingAndGlyphs" font-family="Liberation Serif" font-weight="normal" font-style="normal" fill="#000" stroke="#000" stroke-width="0.15" >1</text>
<text x="375.21" y="1247.90" font-size="22.48" textLength="7.55" lengthAdjust="spacingAndGlyphs" font-family="Liberation Serif" font-weight="normal" font-style="normal" fill="#000" stroke="#000" stroke-width="0.15" >]</text>
<text x="449.99" y="1247.80" font-size="22.48" textLength="79.02" lengthAdjust="spacingAndGlyphs" font-family="Liberation Serif" font-weight="normal" font-style="normal" fill="#000" stroke="#000" stroke-width="0.15" >Extinct.</text>
<text x="535.74" y="1247.80" font-size="22.48" textLength="55.11" lengthAdjust="spacingAndGlyphs" font-family="Liberation Serif" font-weight="normal" font-style="normal" fill="#000" stroke="#000" stroke-width="0.15" >coeff.</text>
<text x="597.47" y="1247.80" font-size="22.48" textLength="47.59" lengthAdjust="spacingAndGlyphs" font-family="Liberation Serif" font-weight="normal" font-style="normal" fill="#000" stroke="#000" stroke-width="0.15" >[Mm</text>
<text x="645.53" y="1241.00" font-size="14.80" textLength="10.92" lengthAdjust="spacingAndGlyphs" font-family="Liberation Serif" font-weight="normal" font-style="normal" fill="#000" stroke="#000" stroke-width="0.15" >−</text>
<text x="656.63" y="1241.00" font-size="14.80" textLength="7.80" lengthAdjust="spacingAndGlyphs" font-family="Liberation Serif" font-weight="normal" font-style="normal" fill="#000" stroke="#000" stroke-width="0.15" >1</text>
<text x="665.63" y="1247.80" font-size="22.48" textLength="8.29" lengthAdjust="spacingAndGlyphs" font-family="Liberation Serif" font-weight="normal" font-style="normal" fill="#000" stroke="#000" stroke-width="0.15" >]</text>
<text x="798.34" y="1244.00" font-size="22.48" textLength="54.33" lengthAdjust="spacingAndGlyphs" font-family="Liberation Serif" font-weight="normal" font-style="normal" fill="#000" stroke="#000" stroke-width="0.15" >Lidar</text>
<text x="859.09" y="1244.00" font-size="22.48" textLength="48.23" lengthAdjust="spacingAndGlyphs" font-family="Liberation Serif" font-weight="normal" font-style="normal" fill="#000" stroke="#000" stroke-width="0.15" >ratio</text>
<text x="913.58" y="1244.00" font-size="22.48" textLength="39.56" lengthAdjust="spacingAndGlyphs" font-family="Liberation Serif" font-weight="normal" font-style="normal" fill="#000" stroke="#000" stroke-width="0.15" >[Sr]</text>
<text x="1115.71" y="1249.50" font-size="21.41" textLength="14.15" lengthAdjust="spacingAndGlyphs" font-family="Liberation Sans" font-weight="normal" font-style="italic" fill="#000" stroke="#000" stroke-width="0.15" >Å</text>
<text x="1128.92" y="1249.50" font-size="22.48" textLength="84.21" lengthAdjust="spacingAndGlyphs" font-family="Liberation Serif" font-weight="normal" font-style="normal" fill="#000" stroke="#000" stroke-width="0.15" >ngström</text>
<text x="1220.03" y="1249.50" font-size="22.48" textLength="44.35" lengthAdjust="spacingAndGlyphs" font-family="Liberation Serif" font-weight="normal" font-style="normal" fill="#000" stroke="#000" stroke-width="0.15" >Exp.</text>
<text x="1442.08" y="1243.90" font-size="22.48" textLength="65.40" lengthAdjust="spacingAndGlyphs" font-family="Liberation Serif" font-weight="normal" font-style="normal" fill="#000" stroke="#000" stroke-width="0.15" >Depol.</text>
<text x="1514.43" y="1243.90" font-size="22.48" textLength="48.23" lengthAdjust="spacingAndGlyphs" font-family="Liberation Serif" font-weight="normal" font-style="normal" fill="#000" stroke="#000" stroke-width="0.15" >ratio</text>
<text x="1732.90" y="1248.00" font-size="22.48" textLength="69.67" lengthAdjust="spacingAndGlyphs" font-family="Liberation Serif" font-weight="normal" font-style="normal" fill="#000" stroke="#000" stroke-width="0.15" >WVMR</text>
<text x="1808.42" y="1248.00" font-size="22.48" textLength="6.68" lengthAdjust="spacingAndGlyphs" font-family="Liberation Serif" font-weight="normal" font-style="normal" fill="#000" stroke="#000" stroke-width="0.15" >[</text>
<text x="1816.45" y="1248.00" font-size="21.41" textLength="11.43" lengthAdjust="spacingAndGlyphs" font-family="Liberation Sans" font-weight="normal" font-style="italic" fill="#000" stroke="#000" stroke-width="0.15" >g</text>
<text x="1832.08" y="1248.00" font-size="22.48" textLength="12.25" lengthAdjust="spacingAndGlyphs" font-family="Liberation Serif" font-weight="normal" font-style="normal" fill="#000" stroke="#000" stroke-width="0.15" >*</text>
<text x="1847.63" y="1248.00" font-size="21.41" textLength="22.25" lengthAdjust="spacingAndGlyphs" font-family="Liberation Sans" font-weight="normal" font-style="italic" fill="#000" stroke="#000" stroke-width="0.15" >kg</text>
<text x="1872.22" y="1241.00" font-size="14.80" textLength="11.04" lengthAdjust="spacingAndGlyphs" font-family="Liberation Serif" font-weight="normal" font-style="normal" fill="#000" stroke="#000" stroke-width="0.15" >−</text>
<text x="1883.54" y="1241.00" font-size="14.80" textLength="8.94" lengthAdjust="spacingAndGlyphs" font-family="Liberation Serif" font-weight="normal" font-style="normal" fill="#000" stroke="#000" stroke-width="0.15" >1</text>
<text x="1892.57" y="1248.00" font-size="22.48" textLength="8.88" lengthAdjust="spacingAndGlyphs" font-family="Liberation Serif" font-weight="normal" font-style="normal" fill="#000" stroke="#000" stroke-width="0.15" >]</text>
<g transform="translate(102.6,661.2) rotate(-90)">
<text x="-61.19" y="0.00" font-size="22.48" textLength="69.71" lengthAdjust="spacingAndGlyphs" font-family="Liberation Serif" font-weight="normal" font-style="normal" fill="#000" stroke="#000" stroke-width="0.15" >Height</text>
<text x="14.87" y="0.00" font-size="22.48" textLength="47.36" lengthAdjust="spacingAndGlyphs" font-family="Liberation Serif" font-weight="normal" font-style="normal" fill="#000" stroke="#000" stroke-width="0.15" >[km]</text>
</g>
<rect x="579.8" y="231.1" width="94.2" height="62.5" fill="#f0f1f6" fill-opacity="0.85"/>
<text x="586.42" y="246.60" font-size="13.52" textLength="16.22" lengthAdjust="spacingAndGlyphs" font-family="Liberation Serif" font-weight="normal" font-style="normal" fill="#000" stroke="#000" stroke-width="0.15" >LR</text>
<text x="603.24" y="248.70" font-size="9.43" textLength="15.95" lengthAdjust="spacingAndGlyphs" font-family="Liberation Sans" font-weight="normal" font-style="normal" fill="#000" stroke="#000" stroke-width="0.15" >355</text>
<text x="619.47" y="246.60" font-size="13.52" textLength="4.97" lengthAdjust="spacingAndGlyphs" font-family="Liberation Serif" font-weight="normal" font-style="normal" fill="#000" stroke="#000" stroke-width="0.15" >:</text>
<text x="627.99" y="246.60" font-size="13.52" textLength="34.48" lengthAdjust="spacingAndGlyphs" font-family="Liberation Serif" font-weight="normal" font-style="normal" fill="#000" stroke="#000" stroke-width="0.15" >45.00</text>
<text x="586.42" y="264.50" font-size="13.52" textLength="16.22" lengthAdjust="spacingAndGlyphs" font-family="Liberation Serif" font-weight="normal" font-style="normal" fill="#000" stroke="#000" stroke-width="0.15" >LR</text>
<text x="603.21" y="266.60" font-size="9.43" textLength="16.08" lengthAdjust="spacingAndGlyphs" font-family="Liberation Sans" font-weight="normal" font-style="normal" fill="#000" stroke="#000" stroke-width="0.15" >532</text>
<text x="619.47" y="264.50" font-size="13.52" textLength="4.97" lengthAdjust="spacingAndGlyphs" font-family="Liberation Serif" font-weight="normal" font-style="normal" fill="#000" stroke="#000" stroke-width="0.15" >:</text>
<text x="627.99" y="264.50" font-size="13.52" textLength="34.48" lengthAdjust="spacingAndGlyphs" font-family="Liberation Serif" font-weight="normal" font-style="normal" fill="#000" stroke="#000" stroke-width="0.15" >40.00</text>
<text x="586.42" y="283.60" font-size="13.52" textLength="16.22" lengthAdjust="spacingAndGlyphs" font-family="Liberation Serif" font-weight="normal" font-style="normal" fill="#000" stroke="#000" stroke-width="0.15" >LR</text>
<text x="602.89" y="285.70" font-size="9.43" textLength="20.99" lengthAdjust="spacingAndGlyphs" font-family="Liberation Sans" font-weight="normal" font-style="normal" fill="#000" stroke="#000" stroke-width="0.15" >1064</text>
<text x="624.27" y="283.60" font-size="13.52" textLength="4.97" lengthAdjust="spacingAndGlyphs" font-family="Liberation Serif" font-weight="normal" font-style="normal" fill="#000" stroke="#000" stroke-width="0.15" >:</text>
<text x="632.92" y="283.60" font-size="13.52" textLength="34.56" lengthAdjust="spacingAndGlyphs" font-family="Liberation Serif" font-weight="normal" font-style="normal" fill="#000" stroke="#000" stroke-width="0.15" >50.00</text>
<rect x="142.5" y="131.5" width="213.7" height="227.60000000000002" rx="3.6" ry="3.6" fill="#fff" fill-opacity="0.8" stroke="#cccccc" stroke-width="1"/>
<path d="M147.10 145.00h33" stroke="#0000ff" stroke-width="2" fill="none"/>
<text x="192.48" y="150.80" font-size="17.06" textLength="53.10" lengthAdjust="spacingAndGlyphs" font-family="Liberation Serif" font-weight="normal" font-style="normal" fill="#000" stroke="#000" stroke-width="0.15" >aerBsc</text>
<rect x="245.66" y="153.57" width="7.67" height="1.1" fill="#000"/>
<text x="253.46" y="150.80" font-size="17.06" textLength="49.74" lengthAdjust="spacingAndGlyphs" font-family="Liberation Serif" font-weight="normal" font-style="normal" fill="#000" stroke="#000" stroke-width="0.15" >raman</text>
<rect x="303.34" y="153.57" width="7.67" height="1.1" fill="#000"/>
<text x="311.25" y="150.80" font-size="17.06" textLength="28.61" lengthAdjust="spacingAndGlyphs" font-family="Liberation Serif" font-weight="normal" font-style="normal" fill="#000" stroke="#000" stroke-width="0.15" >355</text>
<path d="M147.10 169.78h33" stroke="#008000" stroke-width="2" fill="none"/>
<text x="192.48" y="175.58" font-size="17.06" textLength="53.10" lengthAdjust="spacingAndGlyphs" font-family="Liberation Serif" font-weight="normal" font-style="normal" fill="#000" stroke="#000" stroke-width="0.15" >aerBsc</text>
<rect x="245.66" y="178.35" width="7.67" height="1.1" fill="#000"/>
<text x="253.46" y="175.58" font-size="17.06" textLength="49.74" lengthAdjust="spacingAndGlyphs" font-family="Liberation Serif" font-weight="normal" font-style="normal" fill="#000" stroke="#000" stroke-width="0.15" >raman</text>
<rect x="303.34" y="178.35" width="7.67" height="1.1" fill="#000"/>
<text x="311.21" y="175.58" font-size="17.06" textLength="28.59" lengthAdjust="spacingAndGlyphs" font-family="Liberation Serif" font-weight="normal" font-style="normal" fill="#000" stroke="#000" stroke-width="0.15" >532</text>
<path d="M147.10 194.56h33" stroke="#ff0000" stroke-width="2" fill="none"/>
<text x="192.48" y="200.36" font-size="17.06" textLength="53.10" lengthAdjust="spacingAndGlyphs" font-family="Liberation Serif" font-weight="normal" font-style="normal" fill="#000" stroke="#000" stroke-width="0.15" >aerBsc</text>
<rect x="245.66" y="203.13" width="7.67" height="1.1" fill="#000"/>
<text x="253.46" y="200.36" font-size="17.06" textLength="49.74" lengthAdjust="spacingAndGlyphs" font-family="Liberation Serif" font-weight="normal" font-style="normal" fill="#000" stroke="#000" stroke-width="0.15" >raman</text>
<rect x="303.34" y="203.13" width="7.67" height="1.1" fill="#000"/>
<text x="311.21" y="200.36" font-size="17.06" textLength="38.34" lengthAdjust="spacingAndGlyphs" font-family="Liberation Serif" font-weight="normal" font-style="normal" fill="#000" stroke="#000" stroke-width="0.15" >1064</text>
<path d="M147.90 219.34h32" stroke="#800080" stroke-width="2" stroke-dasharray="6 3" fill="none"/>
<text x="192.48" y="225.14" font-size="17.06" textLength="53.10" lengthAdjust="spacingAndGlyphs" font-family="Liberation Serif" font-weight="normal" font-style="normal" fill="#000" stroke="#000" stroke-width="0.15" >aerBsc</text>
<rect x="245.66" y="227.91" width="7.67" height="1.1" fill="#000"/>
<text x="253.65" y="225.14" font-size="17.06" textLength="23.16" lengthAdjust="spacingAndGlyphs" font-family="Liberation Serif" font-weight="normal" font-style="normal" fill="#000" stroke="#000" stroke-width="0.15" >RR</text>
<rect x="276.41" y="227.91" width="7.67" height="1.1" fill="#000"/>
<text x="284.32" y="225.14" font-size="17.06" textLength="28.61" lengthAdjust="spacingAndGlyphs" font-family="Liberation Serif" font-weight="normal" font-style="normal" fill="#000" stroke="#000" stroke-width="0.15" >355</text>
<path d="M147.90 244.12h32" stroke="#808000" stroke-width="2" stroke-dasharray="6 3" fill="none"/>
<text x="192.48" y="249.92" font-size="17.06" textLength="53.10" lengthAdjust="spacingAndGlyphs" font-family="Liberation Serif" font-weight="normal" font-style="normal" fill="#000" stroke="#000" stroke-width="0.15" >aerBsc</text>
<rect x="245.66" y="252.69" width="7.67" height="1.1" fill="#000"/>
<text x="253.65" y="249.92" font-size="17.06" textLength="23.16" lengthAdjust="spacingAndGlyphs" font-family="Liberation Serif" font-weight="normal" font-style="normal" fill="#000" stroke="#000" stroke-width="0.15" >RR</text>
<rect x="276.41" y="252.69" width="7.67" height="1.1" fill="#000"/>
<text x="284.28" y="249.92" font-size="17.06" textLength="28.59" lengthAdjust="spacingAndGlyphs" font-family="Liberation Serif" font-weight="normal" font-style="normal" fill="#000" stroke="#000" stroke-width="0.15" >532</text>
<path d="M147.90 268.90h32" stroke="#ffa07a" stroke-width="2" stroke-dasharray="6 3" fill="none"/>
<text x="192.48" y="274.70" font-size="17.06" textLength="53.10" lengthAdjust="spacingAndGlyphs" font-family="Liberation Serif" font-weight="normal" font-style="normal" fill="#000" stroke="#000" stroke-width="0.15" >aerBsc</text>
<rect x="245.66" y="277.47" width="7.67" height="1.1" fill="#000"/>
<text x="253.65" y="274.70" font-size="17.06" textLength="23.16" lengthAdjust="spacingAndGlyphs" font-family="Liberation Serif" font-weight="normal" font-style="normal" fill="#000" stroke="#000" stroke-width="0.15" >RR</text>
<rect x="276.41" y="277.47" width="7.67" height="1.1" fill="#000"/>
<text x="284.27" y="274.70" font-size="17.06" textLength="38.34" lengthAdjust="spacingAndGlyphs" font-family="Liberation Serif" font-weight="normal" font-style="normal" fill="#000" stroke="#000" stroke-width="0.15" >1064</text>
<path d="M147.10 293.68h33" stroke="#00ffff" stroke-width="2" fill="none"/>
<text x="192.48" y="299.48" font-size="17.06" textLength="53.10" lengthAdjust="spacingAndGlyphs" font-family="Liberation Serif" font-weight="normal" font-style="normal" fill="#000" stroke="#000" stroke-width="0.15" >aerBsc</text>
<rect x="245.66" y="302.25" width="7.67" height="1.1" fill="#000"/>
<text x="253.38" y="299.48" font-size="17.06" textLength="35.53" lengthAdjust="spacingAndGlyphs" font-family="Liberation Serif" font-weight="normal" font-style="normal" fill="#000" stroke="#000" stroke-width="0.15" >klett</text>
<rect x="288.91" y="302.25" width="7.67" height="1.1" fill="#000"/>
<text x="296.82" y="299.48" font-size="17.06" textLength="28.61" lengthAdjust="spacingAndGlyphs" font-family="Liberation Serif" font-weight="normal" font-style="normal" fill="#000" stroke="#000" stroke-width="0.15" >355</text>
<path d="M147.10 318.46h33" stroke="#00ff00" stroke-width="2" fill="none"/>
<text x="192.48" y="324.26" font-size="17.06" textLength="53.10" lengthAdjust="spacingAndGlyphs" font-family="Liberation Serif" font-weight="normal" font-style="normal" fill="#000" stroke="#000" stroke-width="0.15" >aerBsc</text>
<rect x="245.66" y="327.03" width="7.67" height="1.1" fill="#000"/>
<text x="253.38" y="324.26" font-size="17.06" textLength="35.53" lengthAdjust="spacingAndGlyphs" font-family="Liberation Serif" font-weight="normal" font-style="normal" fill="#000" stroke="#000" stroke-width="0.15" >klett</text>
<rect x="288.91" y="327.03" width="7.67" height="1.1" fill="#000"/>
<text x="296.78" y="324.26" font-size="17.06" textLength="28.59" lengthAdjust="spacingAndGlyphs" font-family="Liberation Serif" font-weight="normal" font-style="normal" fill="#000" stroke="#000" stroke-width="0.15" >532</text>
<path d="M147.10 343.24h33" stroke="#fa8072" stroke-width="2" fill="none"/>
<text x="192.48" y="349.04" font-size="17.06" textLength="53.10" lengthAdjust="spacingAndGlyphs" font-family="Liberation Serif" font-weight="normal" font-style="normal" fill="#000" stroke="#000" stroke-width="0.15" >aerBsc</text>
<rect x="245.66" y="351.81" width="7.67" height="1.1" fill="#000"/>
<text x="253.38" y="349.04" font-size="17.06" textLength="35.53" lengthAdjust="spacingAndGlyphs" font-family="Liberation Serif" font-weight="normal" font-style="normal" fill="#000" stroke="#000" stroke-width="0.15" >klett</text>
<rect x="288.91" y="351.81" width="7.67" height="1.1" fill="#000"/>
<text x="296.77" y="349.04" font-size="17.06" textLength="38.34" lengthAdjust="spacingAndGlyphs" font-family="Liberation Serif" font-weight="normal" font-style="normal" fill="#000" stroke="#000" stroke-width="0.15" >1064</text>
<rect x="429.7" y="131.5" width="240.7" height="227.7" rx="3.6" ry="3.6" fill="#fff" fill-opacity="0.8" stroke="#cccccc" stroke-width="1"/>
<path d="M434.30 145.00h33" stroke="#0000ff" stroke-width="2" fill="none"/>
<text x="479.68" y="150.80" font-size="17.06" textLength="51.44" lengthAdjust="spacingAndGlyphs" font-family="Liberation Serif" font-weight="normal" font-style="normal" fill="#000" stroke="#000" stroke-width="0.15" >aerExt</text>
<rect x="531.14" y="153.57" width="7.67" height="1.1" fill="#000"/>
<text x="538.94" y="150.80" font-size="17.06" textLength="49.74" lengthAdjust="spacingAndGlyphs" font-family="Liberation Serif" font-weight="normal" font-style="normal" fill="#000" stroke="#000" stroke-width="0.15" >raman</text>
<rect x="588.82" y="153.57" width="7.67" height="1.1" fill="#000"/>
<text x="596.73" y="150.80" font-size="17.06" textLength="28.61" lengthAdjust="spacingAndGlyphs" font-family="Liberation Serif" font-weight="normal" font-style="normal" fill="#000" stroke="#000" stroke-width="0.15" >355</text>
<path d="M434.30 169.78h33" stroke="#008000" stroke-width="2" fill="none"/>
<text x="479.68" y="175.58" font-size="17.06" textLength="51.44" lengthAdjust="spacingAndGlyphs" font-family="Liberation Serif" font-weight="normal" font-style="normal" fill="#000" stroke="#000" stroke-width="0.15" >aerExt</text>
<rect x="531.14" y="178.35" width="7.67" height="1.1" fill="#000"/>
<text x="538.94" y="175.58" font-size="17.06" textLength="49.74" lengthAdjust="spacingAndGlyphs" font-family="Liberation Serif" font-weight="normal" font-style="normal" fill="#000" stroke="#000" stroke-width="0.15" >raman</text>
<rect x="588.82" y="178.35" width="7.67" height="1.1" fill="#000"/>
<text x="596.69" y="175.58" font-size="17.06" textLength="28.59" lengthAdjust="spacingAndGlyphs" font-family="Liberation Serif" font-weight="normal" font-style="normal" fill="#000" stroke="#000" stroke-width="0.15" >532</text>
<path d="M434.30 194.56h33" stroke="#ff0000" stroke-width="2" fill="none"/>
<text x="479.68" y="200.36" font-size="17.06" textLength="51.44" lengthAdjust="spacingAndGlyphs" font-family="Liberation Serif" font-weight="normal" font-style="normal" fill="#000" stroke="#000" stroke-width="0.15" >aerExt</text>
<rect x="531.14" y="203.13" width="7.67" height="1.1" fill="#000"/>
<text x="538.94" y="200.36" font-size="17.06" textLength="49.74" lengthAdjust="spacingAndGlyphs" font-family="Liberation Serif" font-weight="normal" font-style="normal" fill="#000" stroke="#000" stroke-width="0.15" >raman</text>
<rect x="588.82" y="203.13" width="7.67" height="1.1" fill="#000"/>
<text x="596.68" y="200.36" font-size="17.06" textLength="38.34" lengthAdjust="spacingAndGlyphs" font-family="Liberation Serif" font-weight="normal" font-style="normal" fill="#000" stroke="#000" stroke-width="0.15" >1064</text>
<path d="M435.10 219.34h32" stroke="#800080" stroke-width="2" stroke-dasharray="6 3" fill="none"/>
<text x="479.68" y="225.14" font-size="17.06" textLength="51.44" lengthAdjust="spacingAndGlyphs" font-family="Liberation Serif" font-weight="normal" font-style="normal" fill="#000" stroke="#000" stroke-width="0.15" >aerExt</text>
<rect x="531.14" y="227.91" width="7.67" height="1.1" fill="#000"/>
<text x="539.12" y="225.14" font-size="17.06" textLength="23.16" lengthAdjust="spacingAndGlyphs" font-family="Liberation Serif" font-weight="normal" font-style="normal" fill="#000" stroke="#000" stroke-width="0.15" >RR</text>
<rect x="561.89" y="227.91" width="7.67" height="1.1" fill="#000"/>
<text x="569.80" y="225.14" font-size="17.06" textLength="28.61" lengthAdjust="spacingAndGlyphs" font-family="Liberation Serif" font-weight="normal" font-style="normal" fill="#000" stroke="#000" stroke-width="0.15" >355</text>
<path d="M435.10 244.12h32" stroke="#808000" stroke-width="2" stroke-dasharray="6 3" fill="none"/>
<text x="479.68" y="249.92" font-size="17.06" textLength="51.44" lengthAdjust="spacingAndGlyphs" font-family="Liberation Serif" font-weight="normal" font-style="normal" fill="#000" stroke="#000" stroke-width="0.15" >aerExt</text>
<rect x="531.14" y="252.69" width="7.67" height="1.1" fill="#000"/>
<text x="539.12" y="249.92" font-size="17.06" textLength="23.16" lengthAdjust="spacingAndGlyphs" font-family="Liberation Serif" font-weight="normal" font-style="normal" fill="#000" stroke="#000" stroke-width="0.15" >RR</text>
<rect x="561.89" y="252.69" width="7.67" height="1.1" fill="#000"/>
<text x="569.76" y="249.92" font-size="17.06" textLength="28.59" lengthAdjust="spacingAndGlyphs" font-family="Liberation Serif" font-weight="normal" font-style="normal" fill="#000" stroke="#000" stroke-width="0.15" >532</text>
<path d="M435.10 268.90h32" stroke="#ffa07a" stroke-width="2" stroke-dasharray="6 3" fill="none"/>
<text x="479.68" y="274.70" font-size="17.06" textLength="51.44" lengthAdjust="spacingAndGlyphs" font-family="Liberation Serif" font-weight="normal" font-style="normal" fill="#000" stroke="#000" stroke-width="0.15" >aerExt</text>
<rect x="531.14" y="277.47" width="7.67" height="1.1" fill="#000"/>
<text x="539.12" y="274.70" font-size="17.06" textLength="23.16" lengthAdjust="spacingAndGlyphs" font-family="Liberation Serif" font-weight="normal" font-style="normal" fill="#000" stroke="#000" stroke-width="0.15" >RR</text>
<rect x="561.89" y="277.47" width="7.67" height="1.1" fill="#000"/>
<text x="569.75" y="274.70" font-size="17.06" textLength="38.34" lengthAdjust="spacingAndGlyphs" font-family="Liberation Serif" font-weight="normal" font-style="normal" fill="#000" stroke="#000" stroke-width="0.15" >1064</text>
<path d="M434.30 293.68h33" stroke="#00ffff" stroke-width="2" fill="none"/>
<text x="479.68" y="299.48" font-size="17.06" textLength="53.10" lengthAdjust="spacingAndGlyphs" font-family="Liberation Serif" font-weight="normal" font-style="normal" fill="#000" stroke="#000" stroke-width="0.15" >aerBsc</text>
<rect x="532.86" y="302.25" width="7.67" height="1.1" fill="#000"/>
<text x="540.58" y="299.48" font-size="17.06" textLength="35.53" lengthAdjust="spacingAndGlyphs" font-family="Liberation Serif" font-weight="normal" font-style="normal" fill="#000" stroke="#000" stroke-width="0.15" >klett</text>
<rect x="576.11" y="302.25" width="7.67" height="1.1" fill="#000"/>
<text x="584.02" y="299.48" font-size="17.06" textLength="28.61" lengthAdjust="spacingAndGlyphs" font-family="Liberation Serif" font-weight="normal" font-style="normal" fill="#000" stroke="#000" stroke-width="0.15" >355</text>
<text x="617.93" y="299.48" font-size="17.06" textLength="8.67" lengthAdjust="spacingAndGlyphs" font-family="Liberation Serif" font-weight="normal" font-style="normal" fill="#000" stroke="#000" stroke-width="0.15" >x</text>
<text x="631.76" y="299.48" font-size="17.06" textLength="21.83" lengthAdjust="spacingAndGlyphs" font-family="Liberation Serif" font-weight="normal" font-style="normal" fill="#000" stroke="#000" stroke-width="0.15" >LR</text>
<path d="M434.30 318.46h33" stroke="#00ff00" stroke-width="2" fill="none"/>
<text x="479.68" y="324.26" font-size="17.06" textLength="53.10" lengthAdjust="spacingAndGlyphs" font-family="Liberation Serif" font-weight="normal" font-style="normal" fill="#000" stroke="#000" stroke-width="0.15" >aerBsc</text>
<rect x="532.86" y="327.03" width="7.67" height="1.1" fill="#000"/>
<text x="540.58" y="324.26" font-size="17.06" textLength="35.53" lengthAdjust="spacingAndGlyphs" font-family="Liberation Serif" font-weight="normal" font-style="normal" fill="#000" stroke="#000" stroke-width="0.15" >klett</text>
<rect x="576.11" y="327.03" width="7.67" height="1.1" fill="#000"/>
<text x="583.98" y="324.26" font-size="17.06" textLength="28.59" lengthAdjust="spacingAndGlyphs" font-family="Liberation Serif" font-weight="normal" font-style="normal" fill="#000" stroke="#000" stroke-width="0.15" >532</text>
<text x="617.93" y="324.26" font-size="17.06" textLength="8.67" lengthAdjust="spacingAndGlyphs" font-family="Liberation Serif" font-weight="normal" font-style="normal" fill="#000" stroke="#000" stroke-width="0.15" >x</text>
<text x="631.76" y="324.26" font-size="17.06" textLength="21.83" lengthAdjust="spacingAndGlyphs" font-family="Liberation Serif" font-weight="normal" font-style="normal" fill="#000" stroke="#000" stroke-width="0.15" >LR</text>
<path d="M434.30 343.24h33" stroke="#fa8072" stroke-width="2" fill="none"/>
<text x="479.68" y="349.04" font-size="17.06" textLength="53.10" lengthAdjust="spacingAndGlyphs" font-family="Liberation Serif" font-weight="normal" font-style="normal" fill="#000" stroke="#000" stroke-width="0.15" >aerBsc</text>
<rect x="532.86" y="351.81" width="7.67" height="1.1" fill="#000"/>
<text x="540.58" y="349.04" font-size="17.06" textLength="35.53" lengthAdjust="spacingAndGlyphs" font-family="Liberation Serif" font-weight="normal" font-style="normal" fill="#000" stroke="#000" stroke-width="0.15" >klett</text>
<rect x="576.11" y="351.81" width="7.67" height="1.1" fill="#000"/>
<text x="583.97" y="349.04" font-size="17.06" textLength="38.34" lengthAdjust="spacingAndGlyphs" font-family="Liberation Serif" font-weight="normal" font-style="normal" fill="#000" stroke="#000" stroke-width="0.15" >1064</text>
<text x="627.68" y="349.04" font-size="17.06" textLength="8.67" lengthAdjust="spacingAndGlyphs" font-family="Liberation Serif" font-weight="normal" font-style="normal" fill="#000" stroke="#000" stroke-width="0.15" >x</text>
<text x="641.51" y="349.04" font-size="17.06" textLength="21.83" lengthAdjust="spacingAndGlyphs" font-family="Liberation Serif" font-weight="normal" font-style="normal" fill="#000" stroke="#000" stroke-width="0.15" >LR</text>
<rect x="775.5" y="131.5" width="207.70000000000005" height="153.7" rx="3.6" ry="3.6" fill="#fff" fill-opacity="0.8" stroke="#cccccc" stroke-width="1"/>
<path d="M780.10 145.00h33" stroke="#0000ff" stroke-width="2" fill="none"/>
<text x="825.50" y="150.80" font-size="17.06" textLength="47.56" lengthAdjust="spacingAndGlyphs" font-family="Liberation Serif" font-weight="normal" font-style="normal" fill="#000" stroke="#000" stroke-width="0.15" >aerLR</text>
<rect x="872.66" y="153.57" width="7.67" height="1.1" fill="#000"/>
<text x="880.47" y="150.80" font-size="17.06" textLength="49.74" lengthAdjust="spacingAndGlyphs" font-family="Liberation Serif" font-weight="normal" font-style="normal" fill="#000" stroke="#000" stroke-width="0.15" >raman</text>
<rect x="930.34" y="153.57" width="7.67" height="1.1" fill="#000"/>
<text x="938.25" y="150.80" font-size="17.06" textLength="28.61" lengthAdjust="spacingAndGlyphs" font-family="Liberation Serif" font-weight="normal" font-style="normal" fill="#000" stroke="#000" stroke-width="0.15" >355</text>
<path d="M780.10 169.78h33" stroke="#008000" stroke-width="2" fill="none"/>
<text x="825.50" y="175.58" font-size="17.06" textLength="47.56" lengthAdjust="spacingAndGlyphs" font-family="Liberation Serif" font-weight="normal" font-style="normal" fill="#000" stroke="#000" stroke-width="0.15" >aerLR</text>
<rect x="872.66" y="178.35" width="7.67" height="1.1" fill="#000"/>
<text x="880.47" y="175.58" font-size="17.06" textLength="49.74" lengthAdjust="spacingAndGlyphs" font-family="Liberation Serif" font-weight="normal" font-style="normal" fill="#000" stroke="#000" stroke-width="0.15" >raman</text>
<rect x="930.34" y="178.35" width="7.67" height="1.1" fill="#000"/>
<text x="938.22" y="175.58" font-size="17.06" textLength="28.59" lengthAdjust="spacingAndGlyphs" font-family="Liberation Serif" font-weight="normal" font-style="normal" fill="#000" stroke="#000" stroke-width="0.15" >532</text>
<path d="M780.10 194.56h33" stroke="#ff0000" stroke-width="2" fill="none"/>
<text x="825.50" y="200.36" font-size="17.06" textLength="47.56" lengthAdjust="spacingAndGlyphs" font-family="Liberation Serif" font-weight="normal" font-style="normal" fill="#000" stroke="#000" stroke-width="0.15" >aerLR</text>
<rect x="872.66" y="203.13" width="7.67" height="1.1" fill="#000"/>
<text x="880.47" y="200.36" font-size="17.06" textLength="49.74" lengthAdjust="spacingAndGlyphs" font-family="Liberation Serif" font-weight="normal" font-style="normal" fill="#000" stroke="#000" stroke-width="0.15" >raman</text>
<rect x="930.34" y="203.13" width="7.67" height="1.1" fill="#000"/>
<text x="938.21" y="200.36" font-size="17.06" textLength="38.34" lengthAdjust="spacingAndGlyphs" font-family="Liberation Serif" font-weight="normal" font-style="normal" fill="#000" stroke="#000" stroke-width="0.15" >1064</text>
<path d="M780.90 219.34h32" stroke="#800080" stroke-width="2" stroke-dasharray="6 3" fill="none"/>
<text x="825.50" y="225.14" font-size="17.06" textLength="47.56" lengthAdjust="spacingAndGlyphs" font-family="Liberation Serif" font-weight="normal" font-style="normal" fill="#000" stroke="#000" stroke-width="0.15" >aerLR</text>
<rect x="872.66" y="227.91" width="7.67" height="1.1" fill="#000"/>
<text x="880.65" y="225.14" font-size="17.06" textLength="23.16" lengthAdjust="spacingAndGlyphs" font-family="Liberation Serif" font-weight="normal" font-style="normal" fill="#000" stroke="#000" stroke-width="0.15" >RR</text>
<rect x="903.41" y="227.91" width="7.67" height="1.1" fill="#000"/>
<text x="911.32" y="225.14" font-size="17.06" textLength="28.61" lengthAdjust="spacingAndGlyphs" font-family="Liberation Serif" font-weight="normal" font-style="normal" fill="#000" stroke="#000" stroke-width="0.15" >355</text>
<path d="M780.90 244.12h32" stroke="#808000" stroke-width="2" stroke-dasharray="6 3" fill="none"/>
<text x="825.50" y="249.92" font-size="17.06" textLength="47.56" lengthAdjust="spacingAndGlyphs" font-family="Liberation Serif" font-weight="normal" font-style="normal" fill="#000" stroke="#000" stroke-width="0.15" >aerLR</text>
<rect x="872.66" y="252.69" width="7.67" height="1.1" fill="#000"/>
<text x="880.65" y="249.92" font-size="17.06" textLength="23.16" lengthAdjust="spacingAndGlyphs" font-family="Liberation Serif" font-weight="normal" font-style="normal" fill="#000" stroke="#000" stroke-width="0.15" >RR</text>
<rect x="903.41" y="252.69" width="7.67" height="1.1" fill="#000"/>
<text x="911.28" y="249.92" font-size="17.06" textLength="28.59" lengthAdjust="spacingAndGlyphs" font-family="Liberation Serif" font-weight="normal" font-style="normal" fill="#000" stroke="#000" stroke-width="0.15" >532</text>
<path d="M780.90 268.90h32" stroke="#ffa07a" stroke-width="2" stroke-dasharray="6 3" fill="none"/>
<text x="825.50" y="274.70" font-size="17.06" textLength="47.56" lengthAdjust="spacingAndGlyphs" font-family="Liberation Serif" font-weight="normal" font-style="normal" fill="#000" stroke="#000" stroke-width="0.15" >aerLR</text>
<rect x="872.66" y="277.47" width="7.67" height="1.1" fill="#000"/>
<text x="880.65" y="274.70" font-size="17.06" textLength="23.16" lengthAdjust="spacingAndGlyphs" font-family="Liberation Serif" font-weight="normal" font-style="normal" fill="#000" stroke="#000" stroke-width="0.15" >RR</text>
<rect x="903.41" y="277.47" width="7.67" height="1.1" fill="#000"/>
<text x="911.28" y="274.70" font-size="17.06" textLength="38.34" lengthAdjust="spacingAndGlyphs" font-family="Liberation Serif" font-weight="normal" font-style="normal" fill="#000" stroke="#000" stroke-width="0.15" >1064</text>
<rect x="1021.2" y="131.4" width="276.29999999999995" height="78.79999999999998" rx="3.6" ry="3.6" fill="#fff" fill-opacity="0.8" stroke="#cccccc" stroke-width="1"/>
<path d="M1025.80 144.90h33" stroke="#ffa500" stroke-width="2" fill="none"/>
<text x="1070.86" y="150.70" font-size="17.06" textLength="22.12" lengthAdjust="spacingAndGlyphs" font-family="Liberation Serif" font-weight="normal" font-style="normal" fill="#000" stroke="#000" stroke-width="0.15" >AE</text>
<rect x="1093.36" y="153.47" width="7.67" height="1.1" fill="#000"/>
<text x="1101.49" y="150.70" font-size="17.06" textLength="33.57" lengthAdjust="spacingAndGlyphs" font-family="Liberation Serif" font-weight="normal" font-style="normal" fill="#000" stroke="#000" stroke-width="0.15" >beta</text>
<rect x="1135.21" y="153.47" width="7.67" height="1.1" fill="#000"/>
<text x="1143.12" y="150.70" font-size="17.06" textLength="28.61" lengthAdjust="spacingAndGlyphs" font-family="Liberation Serif" font-weight="normal" font-style="normal" fill="#000" stroke="#000" stroke-width="0.15" >355</text>
<rect x="1172.14" y="153.47" width="7.67" height="1.1" fill="#000"/>
<text x="1180.01" y="150.70" font-size="17.06" textLength="28.59" lengthAdjust="spacingAndGlyphs" font-family="Liberation Serif" font-weight="normal" font-style="normal" fill="#000" stroke="#000" stroke-width="0.15" >532</text>
<rect x="1209.06" y="153.47" width="7.67" height="1.1" fill="#000"/>
<text x="1217.00" y="150.70" font-size="17.06" textLength="54.17" lengthAdjust="spacingAndGlyphs" font-family="Liberation Serif" font-weight="normal" font-style="normal" fill="#000" stroke="#000" stroke-width="0.15" >Raman</text>
<path d="M1025.80 169.90h33" stroke="#ff00ff" stroke-width="2" fill="none"/>
<text x="1070.86" y="175.70" font-size="17.06" textLength="22.12" lengthAdjust="spacingAndGlyphs" font-family="Liberation Serif" font-weight="normal" font-style="normal" fill="#000" stroke="#000" stroke-width="0.15" >AE</text>
<rect x="1093.36" y="178.47" width="7.67" height="1.1" fill="#000"/>
<text x="1101.49" y="175.70" font-size="17.06" textLength="33.57" lengthAdjust="spacingAndGlyphs" font-family="Liberation Serif" font-weight="normal" font-style="normal" fill="#000" stroke="#000" stroke-width="0.15" >beta</text>
<rect x="1135.21" y="178.47" width="7.67" height="1.1" fill="#000"/>
<text x="1143.08" y="175.70" font-size="17.06" textLength="28.59" lengthAdjust="spacingAndGlyphs" font-family="Liberation Serif" font-weight="normal" font-style="normal" fill="#000" stroke="#000" stroke-width="0.15" >532</text>
<rect x="1172.14" y="178.47" width="7.67" height="1.1" fill="#000"/>
<text x="1180.00" y="175.70" font-size="17.06" textLength="38.34" lengthAdjust="spacingAndGlyphs" font-family="Liberation Serif" font-weight="normal" font-style="normal" fill="#000" stroke="#000" stroke-width="0.15" >1064</text>
<rect x="1218.82" y="178.47" width="7.67" height="1.1" fill="#000"/>
<text x="1226.75" y="175.70" font-size="17.06" textLength="54.17" lengthAdjust="spacingAndGlyphs" font-family="Liberation Serif" font-weight="normal" font-style="normal" fill="#000" stroke="#000" stroke-width="0.15" >Raman</text>
<path d="M1025.80 194.90h33" stroke="#000000" stroke-width="2" fill="none"/>
<text x="1070.86" y="200.70" font-size="17.06" textLength="22.12" lengthAdjust="spacingAndGlyphs" font-family="Liberation Serif" font-weight="normal" font-style="normal" fill="#000" stroke="#000" stroke-width="0.15" >AE</text>
<rect x="1093.36" y="203.47" width="7.67" height="1.1" fill="#000"/>
<text x="1101.19" y="200.70" font-size="17.06" textLength="52.10" lengthAdjust="spacingAndGlyphs" font-family="Liberation Serif" font-weight="normal" font-style="normal" fill="#000" stroke="#000" stroke-width="0.15" >parExt</text>
<rect x="1153.30" y="203.47" width="7.67" height="1.1" fill="#000"/>
<text x="1161.21" y="200.70" font-size="17.06" textLength="28.61" lengthAdjust="spacingAndGlyphs" font-family="Liberation Serif" font-weight="normal" font-style="normal" fill="#000" stroke="#000" stroke-width="0.15" >355</text>
<rect x="1190.23" y="203.47" width="7.67" height="1.1" fill="#000"/>
<text x="1198.10" y="200.70" font-size="17.06" textLength="28.59" lengthAdjust="spacingAndGlyphs" font-family="Liberation Serif" font-weight="normal" font-style="normal" fill="#000" stroke="#000" stroke-width="0.15" >532</text>
<rect x="1227.16" y="203.47" width="7.67" height="1.1" fill="#000"/>
<text x="1235.09" y="200.70" font-size="17.06" textLength="54.17" lengthAdjust="spacingAndGlyphs" font-family="Liberation Serif" font-weight="normal" font-style="normal" fill="#000" stroke="#000" stroke-width="0.15" >Raman</text>
<rect x="1378.4" y="131.7" width="233.0999999999999" height="153.90000000000003" rx="3.6" ry="3.6" fill="#fff" fill-opacity="0.8" stroke="#cccccc" stroke-width="1"/>
<path d="M1383.00 145.20h33" stroke="#0000ff" stroke-width="2" fill="none"/>
<text x="1428.47" y="151.00" font-size="17.06" textLength="71.36" lengthAdjust="spacingAndGlyphs" font-family="Liberation Serif" font-weight="normal" font-style="normal" fill="#000" stroke="#000" stroke-width="0.15" >parDepol</text>
<rect x="1499.89" y="153.77" width="7.67" height="1.1" fill="#000"/>
<text x="1507.69" y="151.00" font-size="17.06" textLength="49.74" lengthAdjust="spacingAndGlyphs" font-family="Liberation Serif" font-weight="normal" font-style="normal" fill="#000" stroke="#000" stroke-width="0.15" >raman</text>
<rect x="1557.57" y="153.77" width="7.67" height="1.1" fill="#000"/>
<text x="1565.48" y="151.00" font-size="17.06" textLength="28.61" lengthAdjust="spacingAndGlyphs" font-family="Liberation Serif" font-weight="normal" font-style="normal" fill="#000" stroke="#000" stroke-width="0.15" >355</text>
<path d="M1383.00 169.98h33" stroke="#008000" stroke-width="2" fill="none"/>
<text x="1428.47" y="175.78" font-size="17.06" textLength="71.36" lengthAdjust="spacingAndGlyphs" font-family="Liberation Serif" font-weight="normal" font-style="normal" fill="#000" stroke="#000" stroke-width="0.15" >parDepol</text>
<rect x="1499.89" y="178.55" width="7.67" height="1.1" fill="#000"/>
<text x="1507.69" y="175.78" font-size="17.06" textLength="49.74" lengthAdjust="spacingAndGlyphs" font-family="Liberation Serif" font-weight="normal" font-style="normal" fill="#000" stroke="#000" stroke-width="0.15" >raman</text>
<rect x="1557.57" y="178.55" width="7.67" height="1.1" fill="#000"/>
<text x="1565.44" y="175.78" font-size="17.06" textLength="28.59" lengthAdjust="spacingAndGlyphs" font-family="Liberation Serif" font-weight="normal" font-style="normal" fill="#000" stroke="#000" stroke-width="0.15" >532</text>
<path d="M1383.00 194.76h33" stroke="#ff0000" stroke-width="2" fill="none"/>
<text x="1428.47" y="200.56" font-size="17.06" textLength="71.36" lengthAdjust="spacingAndGlyphs" font-family="Liberation Serif" font-weight="normal" font-style="normal" fill="#000" stroke="#000" stroke-width="0.15" >parDepol</text>
<rect x="1499.89" y="203.33" width="7.67" height="1.1" fill="#000"/>
<text x="1507.69" y="200.56" font-size="17.06" textLength="49.74" lengthAdjust="spacingAndGlyphs" font-family="Liberation Serif" font-weight="normal" font-style="normal" fill="#000" stroke="#000" stroke-width="0.15" >raman</text>
<rect x="1557.57" y="203.33" width="7.67" height="1.1" fill="#000"/>
<text x="1565.44" y="200.56" font-size="17.06" textLength="38.34" lengthAdjust="spacingAndGlyphs" font-family="Liberation Serif" font-weight="normal" font-style="normal" fill="#000" stroke="#000" stroke-width="0.15" >1064</text>
<path d="M1383.00 219.54h33" stroke="#00ffff" stroke-width="2" fill="none"/>
<text x="1428.47" y="225.34" font-size="17.06" textLength="71.36" lengthAdjust="spacingAndGlyphs" font-family="Liberation Serif" font-weight="normal" font-style="normal" fill="#000" stroke="#000" stroke-width="0.15" >parDepol</text>
<rect x="1499.89" y="228.11" width="7.67" height="1.1" fill="#000"/>
<text x="1507.62" y="225.34" font-size="17.06" textLength="35.53" lengthAdjust="spacingAndGlyphs" font-family="Liberation Serif" font-weight="normal" font-style="normal" fill="#000" stroke="#000" stroke-width="0.15" >klett</text>
<rect x="1543.14" y="228.11" width="7.67" height="1.1" fill="#000"/>
<text x="1551.05" y="225.34" font-size="17.06" textLength="28.61" lengthAdjust="spacingAndGlyphs" font-family="Liberation Serif" font-weight="normal" font-style="normal" fill="#000" stroke="#000" stroke-width="0.15" >355</text>
<path d="M1383.00 244.32h33" stroke="#00ff00" stroke-width="2" fill="none"/>
<text x="1428.47" y="250.12" font-size="17.06" textLength="71.36" lengthAdjust="spacingAndGlyphs" font-family="Liberation Serif" font-weight="normal" font-style="normal" fill="#000" stroke="#000" stroke-width="0.15" >parDepol</text>
<rect x="1499.89" y="252.89" width="7.67" height="1.1" fill="#000"/>
<text x="1507.62" y="250.12" font-size="17.06" textLength="35.53" lengthAdjust="spacingAndGlyphs" font-family="Liberation Serif" font-weight="normal" font-style="normal" fill="#000" stroke="#000" stroke-width="0.15" >klett</text>
<rect x="1543.14" y="252.89" width="7.67" height="1.1" fill="#000"/>
<text x="1551.01" y="250.12" font-size="17.06" textLength="28.59" lengthAdjust="spacingAndGlyphs" font-family="Liberation Serif" font-weight="normal" font-style="normal" fill="#000" stroke="#000" stroke-width="0.15" >532</text>
<path d="M1383.00 269.10h33" stroke="#fa8072" stroke-width="2" fill="none"/>
<text x="1428.47" y="274.90" font-size="17.06" textLength="71.36" lengthAdjust="spacingAndGlyphs" font-family="Liberation Serif" font-weight="normal" font-style="normal" fill="#000" stroke="#000" stroke-width="0.15" >parDepol</text>
<rect x="1499.89" y="277.67" width="7.67" height="1.1" fill="#000"/>
<text x="1507.62" y="274.90" font-size="17.06" textLength="35.53" lengthAdjust="spacingAndGlyphs" font-family="Liberation Serif" font-weight="normal" font-style="normal" fill="#000" stroke="#000" stroke-width="0.15" >klett</text>
<rect x="1543.14" y="277.67" width="7.67" height="1.1" fill="#000"/>
<text x="1551.01" y="274.90" font-size="17.06" textLength="38.34" lengthAdjust="spacingAndGlyphs" font-family="Liberation Serif" font-weight="normal" font-style="normal" fill="#000" stroke="#000" stroke-width="0.15" >1064</text>
<rect x="1814.4" y="131.5" width="109.89999999999986" height="29.599999999999994" rx="3.6" ry="3.6" fill="#fff" fill-opacity="0.8" stroke="#cccccc" stroke-width="1"/>
<path d="M1819.00 145.00h33" stroke="#0000ff" stroke-width="2" fill="none"/>
<text x="1864.38" y="150.80" font-size="17.06" textLength="54.42" lengthAdjust="spacingAndGlyphs" font-family="Liberation Serif" font-weight="normal" font-style="normal" fill="#000" stroke="#000" stroke-width="0.15" >WVMR</text>
<rect x="1820.5" y="185.6" width="80.79999999999995" height="28.80000000000001" rx="3.6" ry="3.6" fill="#fff" fill-opacity="0.8" stroke="#cccccc" stroke-width="1"/>
<path d="M1825.10 199.10h33" stroke="#008000" stroke-width="2" fill="none"/>
<text x="1870.72" y="204.90" font-size="17.06" textLength="24.26" lengthAdjust="spacingAndGlyphs" font-family="Liberation Serif" font-weight="normal" font-style="normal" fill="#000" stroke="#000" stroke-width="0.15" >RH</text>
<rect x="1486.2" y="330.3" width="95.6" height="72.3" fill="#f0f1f6" fill-opacity="0.85"/>
<text x="1492.51" y="350.10" font-size="16.43" textLength="9.36" lengthAdjust="spacingAndGlyphs" font-family="Liberation Sans" font-weight="normal" font-style="italic" fill="#000" stroke="#000" stroke-width="0.15" >η</text>
<text x="1501.34" y="352.10" font-size="11.49" textLength="20.46" lengthAdjust="spacingAndGlyphs" font-family="Liberation Sans" font-weight="normal" font-style="normal" fill="#000" stroke="#000" stroke-width="0.15" >355</text>
<text x="1522.90" y="350.10" font-size="19.85" textLength="4.76" lengthAdjust="spacingAndGlyphs" font-family="Liberation Serif" font-weight="normal" font-style="normal" fill="#000" stroke="#000" stroke-width="0.15" >:</text>
<text x="1532.99" y="350.10" font-size="19.85" textLength="43.19" lengthAdjust="spacingAndGlyphs" font-family="Liberation Serif" font-weight="normal" font-style="normal" fill="#000" stroke="#000" stroke-width="0.15" >11.91</text>
<text x="1492.51" y="371.70" font-size="16.43" textLength="9.36" lengthAdjust="spacingAndGlyphs" font-family="Liberation Sans" font-weight="normal" font-style="italic" fill="#000" stroke="#000" stroke-width="0.15" >η</text>
<text x="1501.31" y="373.70" font-size="11.49" textLength="20.63" lengthAdjust="spacingAndGlyphs" font-family="Liberation Sans" font-weight="normal" font-style="normal" fill="#000" stroke="#000" stroke-width="0.15" >532</text>
<text x="1522.58" y="371.70" font-size="19.85" textLength="4.76" lengthAdjust="spacingAndGlyphs" font-family="Liberation Serif" font-weight="normal" font-style="normal" fill="#000" stroke="#000" stroke-width="0.15" >:</text>
<text x="1532.53" y="371.70" font-size="19.85" textLength="34.05" lengthAdjust="spacingAndGlyphs" font-family="Liberation Serif" font-weight="normal" font-style="normal" fill="#000" stroke="#000" stroke-width="0.15" >7.06</text>
<text x="1492.51" y="391.90" font-size="16.43" textLength="9.36" lengthAdjust="spacingAndGlyphs" font-family="Liberation Sans" font-weight="normal" font-style="italic" fill="#000" stroke="#000" stroke-width="0.15" >η</text>
<text x="1500.86" y="393.90" font-size="11.49" textLength="28.02" lengthAdjust="spacingAndGlyphs" font-family="Liberation Sans" font-weight="normal" font-style="normal" fill="#000" stroke="#000" stroke-width="0.15" >1064</text>
<text x="1530.05" y="391.90" font-size="19.85" textLength="4.76" lengthAdjust="spacingAndGlyphs" font-family="Liberation Serif" font-weight="normal" font-style="normal" fill="#000" stroke="#000" stroke-width="0.15" >:</text>
<text x="1540.04" y="391.90" font-size="19.85" textLength="28.94" lengthAdjust="spacingAndGlyphs" font-family="Liberation Serif" font-weight="normal" font-style="normal" fill="#000" stroke="#000" stroke-width="0.15" >nan</text>
<rect x="195.1" y="1276.2" width="199.8" height="65.6" fill="#f0f1f6" fill-opacity="0.85"/>
<text x="199.62" y="1295.40" font-size="17.17" textLength="39.59" lengthAdjust="spacingAndGlyphs" font-family="Liberation Serif" font-weight="normal" font-style="normal" fill="#000" stroke="#000" stroke-width="0.15" >ref.H</text>
<rect x="239.49" y="1298.19" width="7.71" height="1.1" fill="#000"/>
<text x="247.44" y="1295.40" font-size="17.17" textLength="34.42" lengthAdjust="spacingAndGlyphs" font-family="Liberation Serif" font-weight="normal" font-style="normal" fill="#000" stroke="#000" stroke-width="0.15" >355:</text>
<text x="286.86" y="1295.40" font-size="17.17" textLength="63.13" lengthAdjust="spacingAndGlyphs" font-family="Liberation Serif" font-weight="normal" font-style="normal" fill="#000" stroke="#000" stroke-width="0.15" >nan-nan</text>
<text x="355.12" y="1295.40" font-size="17.17" textLength="23.72" lengthAdjust="spacingAndGlyphs" font-family="Liberation Serif" font-weight="normal" font-style="normal" fill="#000" stroke="#000" stroke-width="0.15" >km</text>
<text x="199.62" y="1314.90" font-size="17.17" textLength="39.59" lengthAdjust="spacingAndGlyphs" font-family="Liberation Serif" font-weight="normal" font-style="normal" fill="#000" stroke="#000" stroke-width="0.15" >ref.H</text>
<rect x="239.49" y="1317.69" width="7.71" height="1.1" fill="#000"/>
<text x="247.40" y="1314.90" font-size="17.17" textLength="34.46" lengthAdjust="spacingAndGlyphs" font-family="Liberation Serif" font-weight="normal" font-style="normal" fill="#000" stroke="#000" stroke-width="0.15" >532:</text>
<text x="286.86" y="1314.90" font-size="17.17" textLength="63.13" lengthAdjust="spacingAndGlyphs" font-family="Liberation Serif" font-weight="normal" font-style="normal" fill="#000" stroke="#000" stroke-width="0.15" >nan-nan</text>
<text x="355.12" y="1314.90" font-size="17.17" textLength="23.72" lengthAdjust="spacingAndGlyphs" font-family="Liberation Serif" font-weight="normal" font-style="normal" fill="#000" stroke="#000" stroke-width="0.15" >km</text>
<text x="199.62" y="1334.40" font-size="17.17" textLength="39.59" lengthAdjust="spacingAndGlyphs" font-family="Liberation Serif" font-weight="normal" font-style="normal" fill="#000" stroke="#000" stroke-width="0.15" >ref.H</text>
<rect x="239.49" y="1337.19" width="7.71" height="1.1" fill="#000"/>
<text x="247.39" y="1334.40" font-size="17.17" textLength="44.27" lengthAdjust="spacingAndGlyphs" font-family="Liberation Serif" font-weight="normal" font-style="normal" fill="#000" stroke="#000" stroke-width="0.15" >1064:</text>
<text x="296.68" y="1334.40" font-size="17.17" textLength="63.13" lengthAdjust="spacingAndGlyphs" font-family="Liberation Serif" font-weight="normal" font-style="normal" fill="#000" stroke="#000" stroke-width="0.15" >nan-nan</text>
<text x="364.94" y="1334.40" font-size="17.17" textLength="23.72" lengthAdjust="spacingAndGlyphs" font-family="Liberation Serif" font-weight="normal" font-style="normal" fill="#000" stroke="#000" stroke-width="0.15" >km</text>
<rect x="1695.1" y="1274.2" width="164.8" height="27.6" fill="#f0f1f6" fill-opacity="0.85"/>
<text x="1700.30" y="1292.00" font-size="17.17" textLength="125.22" lengthAdjust="spacingAndGlyphs" font-family="Liberation Serif" font-weight="normal" font-style="normal" fill="#000" stroke="#000" stroke-width="0.15" >WV-calib.const.:</text>
<text x="1830.76" y="1292.00" font-size="17.17" textLength="24.01" lengthAdjust="spacingAndGlyphs" font-family="Liberation Serif" font-weight="normal" font-style="normal" fill="#000" stroke="#000" stroke-width="0.15" >3.8</text>
<text x="1001.10" y="1327.80" font-size="14.78" textLength="87.75" lengthAdjust="spacingAndGlyphs" font-family="Liberation Serif" font-weight="bold" font-style="normal" fill="#ff2a2a" stroke="#ff2a2a" stroke-width="0.15" >Preliminary</text>
<text x="1001.09" y="1342.80" font-size="14.78" textLength="59.28" lengthAdjust="spacingAndGlyphs" font-family="Liberation Serif" font-weight="bold" font-style="normal" fill="#ff2a2a" stroke="#ff2a2a" stroke-width="0.15" >Results.</text>
<text x="1500.29" y="1331.90" font-size="12.43" textLength="8.96" lengthAdjust="spacingAndGlyphs" font-family="Liberation Serif" font-weight="bold" font-style="normal" fill="#000" stroke="#000" stroke-width="0.15" >©</text>
<text x="1514.24" y="1331.90" font-size="12.43" textLength="53.52" lengthAdjust="spacingAndGlyphs" font-family="Liberation Serif" font-weight="bold" font-style="normal" fill="#000" stroke="#000" stroke-width="0.15" >TROPOS</text>
<text x="1571.43" y="1331.90" font-size="12.43" textLength="10.81" lengthAdjust="spacingAndGlyphs" font-family="Liberation Serif" font-weight="bold" font-style="normal" fill="#000" stroke="#000" stroke-width="0.15" >&amp;</text>
<text x="1586.01" y="1331.90" font-size="12.43" textLength="33.14" lengthAdjust="spacingAndGlyphs" font-family="Liberation Serif" font-weight="bold" font-style="normal" fill="#000" stroke="#000" stroke-width="0.15" >ECoE</text>
<text x="1623.06" y="1331.90" font-size="12.43" textLength="34.66" lengthAdjust="spacingAndGlyphs" font-family="Liberation Serif" font-weight="bold" font-style="normal" fill="#000" stroke="#000" stroke-width="0.15" >2026.</text>
<text x="1499.77" y="1343.80" font-size="12.43" textLength="18.34" lengthAdjust="spacingAndGlyphs" font-family="Liberation Serif" font-weight="bold" font-style="normal" fill="#000" stroke="#000" stroke-width="0.15" >CC</text>
<text x="1521.91" y="1343.80" font-size="12.43" textLength="17.24" lengthAdjust="spacingAndGlyphs" font-family="Liberation Serif" font-weight="bold" font-style="normal" fill="#000" stroke="#000" stroke-width="0.15" >BY</text>
<text x="1542.73" y="1343.80" font-size="12.43" textLength="16.95" lengthAdjust="spacingAndGlyphs" font-family="Liberation Serif" font-weight="bold" font-style="normal" fill="#000" stroke="#000" stroke-width="0.15" >SA</text>
<text x="1563.58" y="1343.80" font-size="12.43" textLength="19.26" lengthAdjust="spacingAndGlyphs" font-family="Liberation Serif" font-weight="bold" font-style="normal" fill="#000" stroke="#000" stroke-width="0.15" >4.0</text>
<text x="1586.92" y="1343.80" font-size="12.43" textLength="50.89" lengthAdjust="spacingAndGlyphs" font-family="Liberation Serif" font-weight="bold" font-style="normal" fill="#000" stroke="#000" stroke-width="0.15" >License.</text>
<g>
<path d="M663.1 1351.5V1299.6a2.2 2.2 0 0 1 2.2-2.2H815.3a2.2 2.2 0 0 1 2.2 2.2V1351.5Z" fill="#bac0bb" stroke="#333" stroke-width="1.3"/>
<rect x="662.5" y="1335.8" width="155.6" height="16.3" fill="#333"/>
<circle cx="689.1" cy="1322.6" r="25.1" fill="#bac0bb"/>
<circle cx="689.1" cy="1322.6" r="18.6" fill="#fff" stroke="#333" stroke-width="3"/>
<text x="688.9" y="1329.0" font-family="Liberation Sans" font-weight="bold" font-size="22.5" text-anchor="middle" fill="#333" stroke="#333" stroke-width="0.6" textLength="22.6" lengthAdjust="spacingAndGlyphs">cc</text>
<circle cx="744.1" cy="1316.6" r="13.6" fill="#fff" stroke="#333" stroke-width="2.8"/>
<circle cx="744.3" cy="1308.9" r="2.06" fill="#333"/>
<path d="M740.2 1312.1H748.1V1318.8H746.7V1325.9H742.1V1318.8H740.2Z" fill="#333"/>
<circle cx="781.1" cy="1316.6" r="13.6" fill="#fff" stroke="#333" stroke-width="2.8"/>
<path d="M776.99 1314.12A5.25 6.45 0 1 1 777.04 1319.41" fill="none" stroke="#333" stroke-width="3.3"/>
<path d="M773.4 1314.2L779.4 1314.0L776.4 1317.2Z" fill="#333"/>
<text x="743.4" y="1348.7" font-family="Liberation Sans" font-weight="bold" font-size="11.9" text-anchor="middle" fill="#fff" textLength="15.8" lengthAdjust="spacingAndGlyphs">BY</text>
<text x="779.85" y="1348.7" font-family="Liberation Sans" font-weight="bold" font-size="11.9" text-anchor="middle" fill="#fff" textLength="15.7" lengthAdjust="spacingAndGlyphs">SA</text>
</g>
</svg>
</body></html>
